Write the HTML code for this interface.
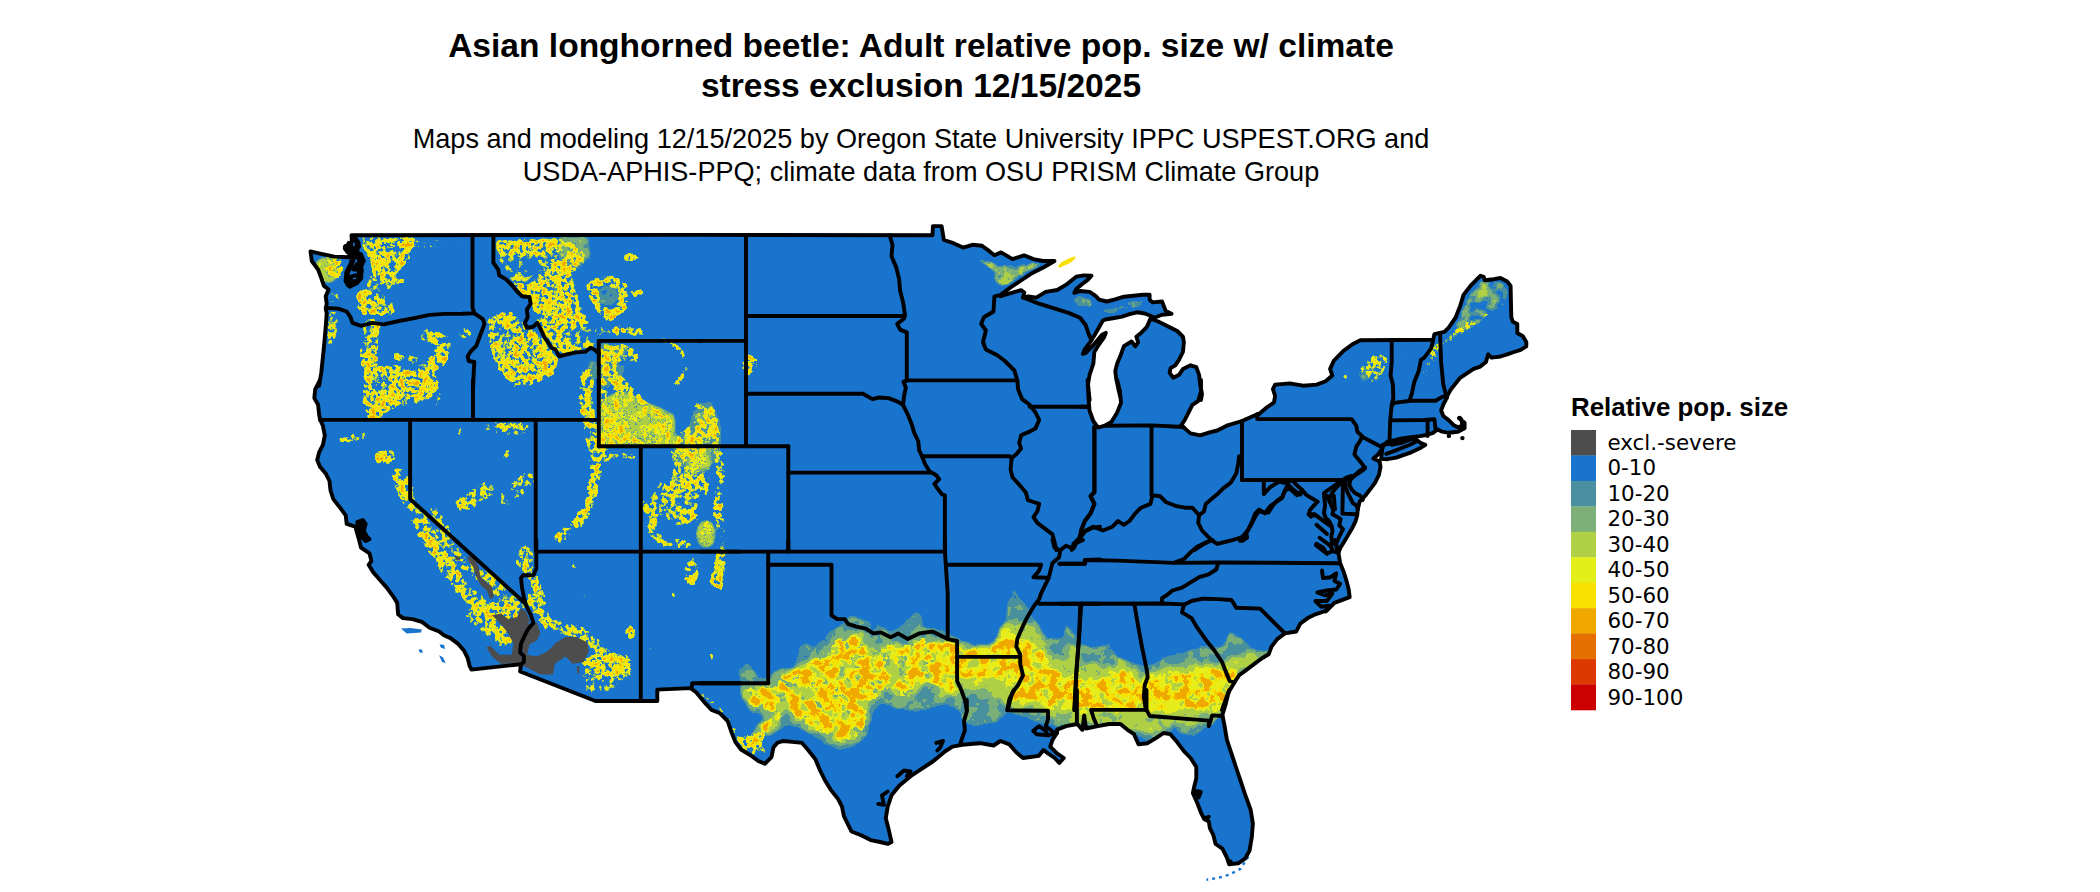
<!DOCTYPE html>
<html><head><meta charset="utf-8"><title>Asian longhorned beetle map</title>
<style>
html,body{margin:0;padding:0;background:#fff;}
body{width:2100px;height:892px;overflow:hidden;position:relative;}
svg{position:absolute;left:0;top:0;display:block}
.t{font-family:"Liberation Sans",sans-serif;font-weight:bold;font-size:33.55px;fill:#000;text-anchor:middle}
.s{font-family:"Liberation Sans",sans-serif;font-size:27.1px;fill:#000;text-anchor:middle}
.lt{font-family:"Liberation Sans",sans-serif;font-weight:bold;font-size:25.9px;fill:#000}
.ll{font-family:"DejaVu Sans",sans-serif;font-size:21.4px;fill:#000}
</style></head><body>
<svg width="2100" height="892" viewBox="0 0 2100 892">
<defs>
<filter id="fw" filterUnits="userSpaceOnUse" x="290" y="215" width="1260" height="677" color-interpolation-filters="sRGB">
<feGaussianBlur in="SourceGraphic" stdDeviation="1.5" result="bl"/>
<feColorMatrix in="bl" type="matrix" values="0 0 0 0 0  0 0 0 0 0  0 0 0 0 0  1 0 0 0 0" result="M"/>
<feTurbulence type="fractalNoise" baseFrequency="0.04" numOctaves="2" seed="23" result="T2"/>
<feColorMatrix in="T2" type="matrix" values="0 0 0 0 0  0 0 0 0 0  0 0 0 0 0  0 1 0 0 0" result="N2"/>
<feComposite in="M" in2="N2" operator="arithmetic" k1="2.6" k2="-0.3" k3="0" k4="0" result="M2"/>
<feTurbulence type="fractalNoise" baseFrequency="0.21" numOctaves="3" seed="3" result="T"/>
<feColorMatrix in="T" type="matrix" values="0 0 0 0 0  0 0 0 0 0  0 0 0 0 0  1 0 0 0 0" result="N"/>
<feComposite in="M2" in2="N" operator="arithmetic" k1="1.9" k2="-0.37" k3="0.3" k4="-0.15" result="V"/>
<feColorMatrix in="V" type="matrix" values="0 0 0 1 0  0 0 0 1 0  0 0 0 1 0  0 0 0 1 0" result="VV"/>
<feComponentTransfer in="VV"><feFuncR type="discrete" tableValues="0 0 0 0 0 0 0 0 0 0 0 0 0 0 0 0.29 0.486 0.486 0.69 0.69 0.69 0.902 0.902 0.902 0.902 0.902 0.902 0.902 0.902 0.976 0.976 0.976 0.976 0.976 0.976 0.976 0.976 0.976 0.976 0.976 0.976 0.976 0.976 0.976 0.976 0.976 0.976 0.941 0.941 0.941"/><feFuncG type="discrete" tableValues="0 0 0 0 0 0 0 0 0 0 0 0 0 0 0 0.565 0.69 0.69 0.816 0.816 0.816 0.933 0.933 0.933 0.933 0.933 0.933 0.933 0.933 0.886 0.886 0.886 0.886 0.886 0.886 0.886 0.886 0.886 0.886 0.886 0.886 0.886 0.886 0.886 0.886 0.886 0.886 0.659 0.659 0.659"/><feFuncB type="discrete" tableValues="0 0 0 0 0 0 0 0 0 0 0 0 0 0 0 0.627 0.471 0.471 0.271 0.271 0.271 0.102 0.102 0.102 0.102 0.102 0.102 0.102 0.102 0.0 0.0 0.0 0.0 0.0 0.0 0.0 0.0 0.0 0.0 0.0 0.0 0.0 0.0 0.0 0.0 0.0 0.0 0.0 0.0 0.0"/><feFuncA type="discrete" tableValues="0 0 0 0 0 0 0 0 0 0 0 0 0 0 0 1 1 1 1 1 1 1 1 1 1 1 1 1 1 1 1 1 1 1 1 1 1 1 1 1 1 1 1 1 1 1 1 1 1 1"/></feComponentTransfer>
</filter><filter id="fs" filterUnits="userSpaceOnUse" x="290" y="215" width="1260" height="677" color-interpolation-filters="sRGB">
<feGaussianBlur in="SourceGraphic" stdDeviation="3.0" result="bl"/>
<feColorMatrix in="bl" type="matrix" values="0 0 0 0 0  0 0 0 0 0  0 0 0 0 0  1 0 0 0 0" result="M"/>

<feTurbulence type="fractalNoise" baseFrequency="0.1" numOctaves="5" seed="7" result="T"/>
<feColorMatrix in="T" type="matrix" values="0 0 0 0 0  0 0 0 0 0  0 0 0 0 0  1 0 0 0 0" result="N"/>
<feComposite in="M" in2="N" operator="arithmetic" k1="1.2" k2="0.06" k3="0.0" k4="-0.0" result="V"/>
<feColorMatrix in="V" type="matrix" values="0 0 0 1 0  0 0 0 1 0  0 0 0 1 0  0 0 0 1 0" result="VV"/>
<feComponentTransfer in="VV"><feFuncR type="discrete" tableValues="0 0 0 0 0 0 0 0 0 0 0 0 0 0 0 0 0 0 0 0 0 0 0 0 0 0 0.902 0.902 0.902 0.902 0.902 0.976 0.976 0.976 0.976 0.976 0.941 0.941 0.941 0.941 0.941 0.941 0.941 0.941 0.941 0.941 0.941 0.941 0.941 0.941"/><feFuncG type="discrete" tableValues="0 0 0 0 0 0 0 0 0 0 0 0 0 0 0 0 0 0 0 0 0 0 0 0 0 0 0.933 0.933 0.933 0.933 0.933 0.886 0.886 0.886 0.886 0.886 0.659 0.659 0.659 0.659 0.659 0.659 0.659 0.659 0.659 0.659 0.659 0.659 0.659 0.659"/><feFuncB type="discrete" tableValues="0 0 0 0 0 0 0 0 0 0 0 0 0 0 0 0 0 0 0 0 0 0 0 0 0 0 0.102 0.102 0.102 0.102 0.102 0.0 0.0 0.0 0.0 0.0 0.0 0.0 0.0 0.0 0.0 0.0 0.0 0.0 0.0 0.0 0.0 0.0 0.0 0.0"/><feFuncA type="discrete" tableValues="0 0 0 0 0 0 0 0 0 0 0 0 0 0 0 0 0 0 0 0 0 0 0 0 0 0 1 1 1 1 1 1 1 1 1 1 1 1 1 1 1 1 1 1 1 1 1 1 1 1"/></feComponentTransfer>
</filter><filter id="fn" filterUnits="userSpaceOnUse" x="290" y="215" width="1260" height="677" color-interpolation-filters="sRGB">
<feGaussianBlur in="SourceGraphic" stdDeviation="2.2" result="bl"/>
<feColorMatrix in="bl" type="matrix" values="0 0 0 0 0  0 0 0 0 0  0 0 0 0 0  1 0 0 0 0" result="M"/>

<feTurbulence type="fractalNoise" baseFrequency="0.1" numOctaves="3" seed="11" result="T"/>
<feColorMatrix in="T" type="matrix" values="0 0 0 0 0  0 0 0 0 0  0 0 0 0 0  1 0 0 0 0" result="N"/>
<feComposite in="M" in2="N" operator="arithmetic" k1="0.6" k2="0.32" k3="0.0" k4="-0.0" result="V"/>
<feColorMatrix in="V" type="matrix" values="0 0 0 1 0  0 0 0 1 0  0 0 0 1 0  0 0 0 1 0" result="VV"/>
<feComponentTransfer in="VV"><feFuncR type="discrete" tableValues="0 0 0 0 0 0 0 0 0 0 0 0 0 0 0 0.29 0.29 0.29 0.486 0.486 0.486 0.69 0.69 0.69 0.69 0.902 0.902 0.902 0.902 0.902 0.976 0.976 0.976 0.976 0.976 0.976 0.941 0.941 0.941 0.941 0.941 0.941 0.941 0.941 0.941 0.941 0.941 0.941 0.941 0.941"/><feFuncG type="discrete" tableValues="0 0 0 0 0 0 0 0 0 0 0 0 0 0 0 0.565 0.565 0.565 0.69 0.69 0.69 0.816 0.816 0.816 0.816 0.933 0.933 0.933 0.933 0.933 0.886 0.886 0.886 0.886 0.886 0.886 0.659 0.659 0.659 0.659 0.659 0.659 0.659 0.659 0.659 0.659 0.659 0.659 0.659 0.659"/><feFuncB type="discrete" tableValues="0 0 0 0 0 0 0 0 0 0 0 0 0 0 0 0.627 0.627 0.627 0.471 0.471 0.471 0.271 0.271 0.271 0.271 0.102 0.102 0.102 0.102 0.102 0.0 0.0 0.0 0.0 0.0 0.0 0.0 0.0 0.0 0.0 0.0 0.0 0.0 0.0 0.0 0.0 0.0 0.0 0.0 0.0"/><feFuncA type="discrete" tableValues="0 0 0 0 0 0 0 0 0 0 0 0 0 0 0 1 1 1 1 1 1 1 1 1 1 1 1 1 1 1 1 1 1 1 1 1 1 1 1 1 1 1 1 1 1 1 1 1 1 1"/></feComponentTransfer>
</filter><filter id="fh" filterUnits="userSpaceOnUse" x="290" y="215" width="1260" height="677" color-interpolation-filters="sRGB">
<feGaussianBlur in="SourceGraphic" stdDeviation="2.2" result="bl"/>
<feColorMatrix in="bl" type="matrix" values="0 0 0 0 0  0 0 0 0 0  0 0 0 0 0  1 0 0 0 0" result="M"/>

<feTurbulence type="fractalNoise" baseFrequency="0.09" numOctaves="3" seed="5" result="T"/>
<feColorMatrix in="T" type="matrix" values="0 0 0 0 0  0 0 0 0 0  0 0 0 0 0  1 0 0 0 0" result="N"/>
<feComposite in="M" in2="N" operator="arithmetic" k1="0.3" k2="0.47" k3="0.0" k4="-0.0" result="V"/>
<feColorMatrix in="V" type="matrix" values="0 0 0 1 0  0 0 0 1 0  0 0 0 1 0  0 0 0 1 0" result="VV"/>
<feComponentTransfer in="VV"><feFuncR type="discrete" tableValues="0 0 0 0 0 0 0 0 0 0 0 0 0 0 0 0.29 0.29 0.29 0.486 0.486 0.486 0.69 0.69 0.69 0.69 0.902 0.902 0.902 0.902 0.902 0.976 0.976 0.976 0.976 0.976 0.976 0.941 0.941 0.941 0.941 0.941 0.941 0.941 0.941 0.941 0.941 0.941 0.941 0.941 0.941"/><feFuncG type="discrete" tableValues="0 0 0 0 0 0 0 0 0 0 0 0 0 0 0 0.565 0.565 0.565 0.69 0.69 0.69 0.816 0.816 0.816 0.816 0.933 0.933 0.933 0.933 0.933 0.886 0.886 0.886 0.886 0.886 0.886 0.659 0.659 0.659 0.659 0.659 0.659 0.659 0.659 0.659 0.659 0.659 0.659 0.659 0.659"/><feFuncB type="discrete" tableValues="0 0 0 0 0 0 0 0 0 0 0 0 0 0 0 0.627 0.627 0.627 0.471 0.471 0.471 0.271 0.271 0.271 0.271 0.102 0.102 0.102 0.102 0.102 0.0 0.0 0.0 0.0 0.0 0.0 0.0 0.0 0.0 0.0 0.0 0.0 0.0 0.0 0.0 0.0 0.0 0.0 0.0 0.0"/><feFuncA type="discrete" tableValues="0 0 0 0 0 0 0 0 0 0 0 0 0 0 0 1 1 1 1 1 1 1 1 1 1 1 1 1 1 1 1 1 1 1 1 1 1 1 1 1 1 1 1 1 1 1 1 1 1 1"/></feComponentTransfer>
</filter>
<clipPath id="us"><path d="M351.5 235.2 L700.0 234.9 L932.5 235.2 L932.9 226.1 L941.6 226.1 L943.9 240.0 L953.5 243.2 L963.0 247.6 L972.5 244.8 L982.0 245.7 L989.7 251.4 L994.4 255.3 L1001.1 252.4 L1012.5 259.1 L1024.0 255.3 L1033.5 259.1 L1043.0 261.0 L1054.5 261.0 L1043.8 267.2 L1032.4 272.9 L1021.0 280.5 L1009.5 288.1 L1000.0 295.4 L1000.0 296.3 L1011.4 292.9 L1021.0 290.2 L1024.4 292.5 L1022.9 297.7 L1028.6 296.3 L1036.2 297.7 L1045.7 291.9 L1057.2 290.0 L1066.7 284.3 L1076.2 276.7 L1083.8 275.4 L1091.5 275.7 L1087.7 279.9 L1081.9 284.3 L1076.2 289.1 L1074.3 292.9 L1080.0 291.0 L1089.6 291.9 L1095.3 295.7 L1099.1 299.6 L1106.7 301.5 L1114.3 299.6 L1123.9 296.7 L1133.4 295.7 L1142.9 294.8 L1149.6 294.8 L1149.6 299.6 L1152.5 302.4 L1162.0 301.5 L1163.9 306.2 L1165.8 311.0 L1171.5 313.8 L1162.0 314.8 L1154.4 317.7 L1150.5 315.8 L1144.8 313.5 L1137.2 312.3 L1129.6 314.2 L1122.0 316.7 L1114.3 318.0 L1106.7 319.2 L1102.9 320.5 L1099.1 327.2 L1095.3 333.9 L1091.5 340.1 L1088.6 344.3 L1084.8 349.1 L1082.9 353.9 L1085.8 352.9 L1091.5 347.2 L1097.2 340.5 L1102.0 334.8 L1105.8 332.9 L1103.9 337.7 L1099.1 344.3 L1094.3 352.0 L1093.4 363.4 L1089.6 374.8 L1087.7 386.3 L1089.6 400.0 L1087.6 380.0 L1088.6 399.1 L1089.5 410.5 L1093.3 421.0 L1098.1 427.6 L1104.8 425.7 L1111.4 421.9 L1117.2 412.4 L1121.0 402.9 L1120.0 391.4 L1117.2 380.0 L1121.0 400.0 L1118.2 388.2 L1116.2 378.6 L1115.3 371.0 L1117.2 363.4 L1120.4 355.8 L1123.9 346.2 L1131.5 341.5 L1135.3 346.2 L1138.2 342.4 L1136.3 336.7 L1141.0 332.9 L1146.7 327.2 L1150.5 318.6 L1158.2 321.5 L1167.7 326.2 L1177.2 331.0 L1182.9 336.7 L1183.9 342.4 L1182.9 352.0 L1179.1 359.6 L1175.3 365.3 L1170.6 368.2 L1169.6 372.9 L1173.4 377.7 L1179.1 374.8 L1182.9 369.1 L1190.6 365.3 L1196.3 367.2 L1199.1 374.8 L1200.1 384.4 L1202.0 393.9 L1201.0 400.0 L1201.0 380.0 L1201.0 391.4 L1198.2 401.0 L1192.4 404.8 L1188.6 412.4 L1184.8 420.0 L1181.0 425.7 L1183.9 427.6 L1190.5 433.4 L1200.1 435.3 L1209.6 432.4 L1217.2 430.5 L1226.7 425.7 L1242.0 421.0 L1257.2 414.3 L1257.2 415.5 L1267.3 407.0 L1274.0 402.5 L1275.1 395.8 L1272.9 389.0 L1275.1 384.6 L1289.7 383.4 L1303.2 385.7 L1316.6 384.6 L1325.6 381.2 L1332.3 375.6 L1330.1 368.9 L1333.9 360.6 L1343.5 350.9 L1352.5 344.2 L1360.3 340.2 L1433.2 339.7 L1434.4 334.1 L1444.4 331.9 L1448.9 327.4 L1455.7 317.3 L1460.1 306.1 L1463.5 294.9 L1471.4 284.8 L1480.3 275.8 L1483.7 276.9 L1484.8 280.3 L1493.8 279.2 L1500.5 278.0 L1507.2 281.4 L1510.6 285.9 L1511.3 317.3 L1512.9 321.8 L1517.3 324.0 L1517.3 333.0 L1522.9 336.3 L1526.3 341.9 L1526.3 346.4 L1520.7 349.8 L1514.0 352.0 L1507.2 354.3 L1500.5 356.5 L1491.5 357.6 L1488.2 354.3 L1485.9 362.1 L1480.3 366.6 L1473.6 368.9 L1466.9 373.3 L1460.1 377.8 L1455.7 383.4 L1451.2 389.0 L1447.8 394.7 L1446.7 398.0 L1443.3 404.7 L1441.1 410.3 L1443.3 416.0 L1448.9 420.4 L1453.4 424.9 L1457.9 427.2 L1462.4 426.0 L1461.3 419.3 L1459.0 418.2 L1464.6 422.7 L1464.6 428.3 L1457.9 431.7 L1448.9 432.8 L1442.2 431.7 L1437.7 429.4 L1433.2 432.8 L1426.5 435.0 L1419.8 436.1 L1410.8 437.3 L1401.8 438.4 L1392.9 440.6 L1386.1 442.9 L1383.9 445.1 L1382.0 449.0 L1378.1 454.5 L1373.4 458.5 L1379.7 461.6 L1380.5 467.1 L1378.9 474.9 L1375.0 482.8 L1370.3 489.1 L1365.6 495.3 L1361.6 499.3 L1362.7 499.7 L1359.7 501.3 L1357.8 509.3 L1357.2 515.5 L1355.4 521.7 L1351.7 529.1 L1348.0 535.2 L1344.3 541.4 L1340.6 547.5 L1338.7 551.9 L1334.4 540.0 L1338.2 551.4 L1340.1 562.9 L1343.9 572.4 L1346.8 581.9 L1348.7 589.5 L1349.7 597.2 L1334.4 602.9 L1326.8 610.5 L1315.4 614.3 L1307.7 618.1 L1300.1 623.8 L1296.3 631.5 L1284.9 633.4 L1277.2 639.1 L1271.5 646.7 L1268.7 654.3 L1262.0 658.2 L1254.4 663.9 L1246.8 669.6 L1239.1 675.3 L1235.3 681.0 L1229.6 690.5 L1225.8 700.1 L1222.0 710.0 L1229.2 690.0 L1225.8 703.6 L1222.4 714.9 L1224.6 726.2 L1226.9 739.8 L1231.4 753.4 L1235.9 767.0 L1240.5 780.6 L1245.0 794.2 L1250.7 810.0 L1252.9 823.6 L1251.8 837.2 L1249.5 850.8 L1245.0 858.7 L1238.2 863.3 L1229.2 864.4 L1226.9 857.6 L1222.4 848.6 L1215.6 844.0 L1213.3 835.0 L1209.9 828.2 L1208.8 821.4 L1204.2 819.1 L1200.8 812.3 L1197.4 803.3 L1192.9 793.1 L1194.0 787.4 L1196.3 778.3 L1196.3 767.0 L1190.6 758.0 L1183.9 751.2 L1177.1 742.1 L1170.3 734.2 L1163.5 733.0 L1156.7 737.6 L1147.6 743.2 L1138.6 744.4 L1134.0 734.2 L1127.2 729.6 L1120.4 724.0 L1109.1 724.0 L1097.8 726.2 L1086.0 728.5 L1084.2 715.4 L1082.4 729.9 L1077.4 724.0 L1066.1 726.2 L1057.0 729.6 L1057.0 733.0 L1052.5 739.8 L1050.2 746.6 L1057.0 753.4 L1063.8 758.0 L1059.3 762.9 L1054.7 758.0 L1048.0 753.4 L1043.4 750.0 L1038.9 755.7 L1032.1 756.8 L1023.0 758.0 L1016.2 752.3 L1009.4 744.4 L1000.4 741.0 L993.6 745.5 L980.0 743.2 L973.5 743.8 L962.1 744.8 L952.5 746.7 L944.9 751.5 L933.5 761.0 L922.0 768.6 L910.6 776.2 L899.2 785.8 L891.5 795.3 L887.7 806.7 L885.8 818.2 L888.7 829.6 L891.5 842.0 L887.7 843.9 L880.1 842.0 L870.6 840.1 L861.1 835.3 L851.5 831.5 L848.7 825.8 L843.9 816.2 L842.0 806.7 L838.2 799.1 L830.6 789.6 L824.8 780.0 L820.1 770.5 L815.3 759.1 L807.7 749.5 L802.0 742.9 L792.5 741.9 L782.9 741.0 L777.2 742.9 L773.4 747.6 L771.5 757.2 L764.8 763.8 L758.2 761.0 L750.5 755.3 L741.0 749.5 L735.3 741.9 L731.5 732.4 L727.7 721.0 L720.0 713.3 L711.6 710.0 L705.9 703.9 L701.1 698.2 L696.4 692.5 L690.6 688.1 L657.3 689.6 L657.3 701.0 L595.4 701.0 L520.1 671.5 L521.0 664.2 L471.5 669.6 L469.6 665.8 L467.7 658.2 L463.9 650.5 L458.2 643.9 L450.5 638.1 L443.9 635.3 L439.1 631.5 L429.6 627.7 L421.9 621.9 L412.4 619.1 L402.9 618.1 L398.1 614.3 L397.2 602.9 L392.4 595.3 L386.7 587.6 L380.0 580.0 L373.3 572.4 L368.6 564.8 L371.4 561.0 L369.5 553.3 L361.0 547.6 L359.1 540.0 L355.3 526.7 L346.7 523.9 L345.7 515.3 L340.0 507.7 L333.3 499.1 L330.5 490.5 L329.5 481.0 L325.7 473.4 L320.0 466.7 L317.2 460.0 L319.1 452.4 L322.9 444.8 L324.8 435.3 L322.9 425.7 L320.0 419.1 L319.1 414.3 L318.1 404.8 L314.3 398.1 L315.2 389.5 L320.0 380.0 L319.1 385.8 L321.3 372.5 L322.9 357.2 L324.4 342.0 L325.7 326.7 L326.7 313.4 L325.7 308.6 L326.7 303.8 L325.7 296.2 L328.6 289.6 L323.8 285.7 L321.0 277.2 L318.1 269.5 L311.8 261.0 L310.5 251.4 L319.1 253.3 L334.3 256.6 L349.2 257.2 L349.9 250.5 L351.8 241.0 L351.5 235.2 Z"/><path d="M401.0 628.6 L410.5 628.0 L421.9 629.6 L421.0 632.4 L406.7 633.4 Z"/><path d="M418.5 649.6 L421.9 649.6 L422.9 652.8 L419.7 652.4 Z"/><path d="M439.5 644.4 L443.9 644.8 L445.2 649.0 L441.0 647.7 Z"/><path d="M439.1 655.3 L442.9 657.2 L445.8 662.9 L442.0 662.0 Z"/><path d="M1058.1 266.2 L1061.0 262.4 L1068.6 258.6 L1075.3 256.3 L1075.3 258.6 L1070.5 262.8 L1062.9 266.2 L1059.5 267.7 Z"/><path d="M1382.8 444.8 L1392.9 443.2 L1403.0 440.4 L1415.3 438.7 L1420.9 443.2 L1425.4 444.8 L1420.9 447.7 L1409.7 452.9 L1396.2 457.7 L1387.3 459.2 L1381.1 458.9 Z"/></clipPath>
</defs>
<rect width="2100" height="892" fill="#fff"/>
<path d="M351.5 235.2 L700.0 234.9 L932.5 235.2 L932.9 226.1 L941.6 226.1 L943.9 240.0 L953.5 243.2 L963.0 247.6 L972.5 244.8 L982.0 245.7 L989.7 251.4 L994.4 255.3 L1001.1 252.4 L1012.5 259.1 L1024.0 255.3 L1033.5 259.1 L1043.0 261.0 L1054.5 261.0 L1043.8 267.2 L1032.4 272.9 L1021.0 280.5 L1009.5 288.1 L1000.0 295.4 L1000.0 296.3 L1011.4 292.9 L1021.0 290.2 L1024.4 292.5 L1022.9 297.7 L1028.6 296.3 L1036.2 297.7 L1045.7 291.9 L1057.2 290.0 L1066.7 284.3 L1076.2 276.7 L1083.8 275.4 L1091.5 275.7 L1087.7 279.9 L1081.9 284.3 L1076.2 289.1 L1074.3 292.9 L1080.0 291.0 L1089.6 291.9 L1095.3 295.7 L1099.1 299.6 L1106.7 301.5 L1114.3 299.6 L1123.9 296.7 L1133.4 295.7 L1142.9 294.8 L1149.6 294.8 L1149.6 299.6 L1152.5 302.4 L1162.0 301.5 L1163.9 306.2 L1165.8 311.0 L1171.5 313.8 L1162.0 314.8 L1154.4 317.7 L1150.5 315.8 L1144.8 313.5 L1137.2 312.3 L1129.6 314.2 L1122.0 316.7 L1114.3 318.0 L1106.7 319.2 L1102.9 320.5 L1099.1 327.2 L1095.3 333.9 L1091.5 340.1 L1088.6 344.3 L1084.8 349.1 L1082.9 353.9 L1085.8 352.9 L1091.5 347.2 L1097.2 340.5 L1102.0 334.8 L1105.8 332.9 L1103.9 337.7 L1099.1 344.3 L1094.3 352.0 L1093.4 363.4 L1089.6 374.8 L1087.7 386.3 L1089.6 400.0 L1087.6 380.0 L1088.6 399.1 L1089.5 410.5 L1093.3 421.0 L1098.1 427.6 L1104.8 425.7 L1111.4 421.9 L1117.2 412.4 L1121.0 402.9 L1120.0 391.4 L1117.2 380.0 L1121.0 400.0 L1118.2 388.2 L1116.2 378.6 L1115.3 371.0 L1117.2 363.4 L1120.4 355.8 L1123.9 346.2 L1131.5 341.5 L1135.3 346.2 L1138.2 342.4 L1136.3 336.7 L1141.0 332.9 L1146.7 327.2 L1150.5 318.6 L1158.2 321.5 L1167.7 326.2 L1177.2 331.0 L1182.9 336.7 L1183.9 342.4 L1182.9 352.0 L1179.1 359.6 L1175.3 365.3 L1170.6 368.2 L1169.6 372.9 L1173.4 377.7 L1179.1 374.8 L1182.9 369.1 L1190.6 365.3 L1196.3 367.2 L1199.1 374.8 L1200.1 384.4 L1202.0 393.9 L1201.0 400.0 L1201.0 380.0 L1201.0 391.4 L1198.2 401.0 L1192.4 404.8 L1188.6 412.4 L1184.8 420.0 L1181.0 425.7 L1183.9 427.6 L1190.5 433.4 L1200.1 435.3 L1209.6 432.4 L1217.2 430.5 L1226.7 425.7 L1242.0 421.0 L1257.2 414.3 L1257.2 415.5 L1267.3 407.0 L1274.0 402.5 L1275.1 395.8 L1272.9 389.0 L1275.1 384.6 L1289.7 383.4 L1303.2 385.7 L1316.6 384.6 L1325.6 381.2 L1332.3 375.6 L1330.1 368.9 L1333.9 360.6 L1343.5 350.9 L1352.5 344.2 L1360.3 340.2 L1433.2 339.7 L1434.4 334.1 L1444.4 331.9 L1448.9 327.4 L1455.7 317.3 L1460.1 306.1 L1463.5 294.9 L1471.4 284.8 L1480.3 275.8 L1483.7 276.9 L1484.8 280.3 L1493.8 279.2 L1500.5 278.0 L1507.2 281.4 L1510.6 285.9 L1511.3 317.3 L1512.9 321.8 L1517.3 324.0 L1517.3 333.0 L1522.9 336.3 L1526.3 341.9 L1526.3 346.4 L1520.7 349.8 L1514.0 352.0 L1507.2 354.3 L1500.5 356.5 L1491.5 357.6 L1488.2 354.3 L1485.9 362.1 L1480.3 366.6 L1473.6 368.9 L1466.9 373.3 L1460.1 377.8 L1455.7 383.4 L1451.2 389.0 L1447.8 394.7 L1446.7 398.0 L1443.3 404.7 L1441.1 410.3 L1443.3 416.0 L1448.9 420.4 L1453.4 424.9 L1457.9 427.2 L1462.4 426.0 L1461.3 419.3 L1459.0 418.2 L1464.6 422.7 L1464.6 428.3 L1457.9 431.7 L1448.9 432.8 L1442.2 431.7 L1437.7 429.4 L1433.2 432.8 L1426.5 435.0 L1419.8 436.1 L1410.8 437.3 L1401.8 438.4 L1392.9 440.6 L1386.1 442.9 L1383.9 445.1 L1382.0 449.0 L1378.1 454.5 L1373.4 458.5 L1379.7 461.6 L1380.5 467.1 L1378.9 474.9 L1375.0 482.8 L1370.3 489.1 L1365.6 495.3 L1361.6 499.3 L1362.7 499.7 L1359.7 501.3 L1357.8 509.3 L1357.2 515.5 L1355.4 521.7 L1351.7 529.1 L1348.0 535.2 L1344.3 541.4 L1340.6 547.5 L1338.7 551.9 L1334.4 540.0 L1338.2 551.4 L1340.1 562.9 L1343.9 572.4 L1346.8 581.9 L1348.7 589.5 L1349.7 597.2 L1334.4 602.9 L1326.8 610.5 L1315.4 614.3 L1307.7 618.1 L1300.1 623.8 L1296.3 631.5 L1284.9 633.4 L1277.2 639.1 L1271.5 646.7 L1268.7 654.3 L1262.0 658.2 L1254.4 663.9 L1246.8 669.6 L1239.1 675.3 L1235.3 681.0 L1229.6 690.5 L1225.8 700.1 L1222.0 710.0 L1229.2 690.0 L1225.8 703.6 L1222.4 714.9 L1224.6 726.2 L1226.9 739.8 L1231.4 753.4 L1235.9 767.0 L1240.5 780.6 L1245.0 794.2 L1250.7 810.0 L1252.9 823.6 L1251.8 837.2 L1249.5 850.8 L1245.0 858.7 L1238.2 863.3 L1229.2 864.4 L1226.9 857.6 L1222.4 848.6 L1215.6 844.0 L1213.3 835.0 L1209.9 828.2 L1208.8 821.4 L1204.2 819.1 L1200.8 812.3 L1197.4 803.3 L1192.9 793.1 L1194.0 787.4 L1196.3 778.3 L1196.3 767.0 L1190.6 758.0 L1183.9 751.2 L1177.1 742.1 L1170.3 734.2 L1163.5 733.0 L1156.7 737.6 L1147.6 743.2 L1138.6 744.4 L1134.0 734.2 L1127.2 729.6 L1120.4 724.0 L1109.1 724.0 L1097.8 726.2 L1086.0 728.5 L1084.2 715.4 L1082.4 729.9 L1077.4 724.0 L1066.1 726.2 L1057.0 729.6 L1057.0 733.0 L1052.5 739.8 L1050.2 746.6 L1057.0 753.4 L1063.8 758.0 L1059.3 762.9 L1054.7 758.0 L1048.0 753.4 L1043.4 750.0 L1038.9 755.7 L1032.1 756.8 L1023.0 758.0 L1016.2 752.3 L1009.4 744.4 L1000.4 741.0 L993.6 745.5 L980.0 743.2 L973.5 743.8 L962.1 744.8 L952.5 746.7 L944.9 751.5 L933.5 761.0 L922.0 768.6 L910.6 776.2 L899.2 785.8 L891.5 795.3 L887.7 806.7 L885.8 818.2 L888.7 829.6 L891.5 842.0 L887.7 843.9 L880.1 842.0 L870.6 840.1 L861.1 835.3 L851.5 831.5 L848.7 825.8 L843.9 816.2 L842.0 806.7 L838.2 799.1 L830.6 789.6 L824.8 780.0 L820.1 770.5 L815.3 759.1 L807.7 749.5 L802.0 742.9 L792.5 741.9 L782.9 741.0 L777.2 742.9 L773.4 747.6 L771.5 757.2 L764.8 763.8 L758.2 761.0 L750.5 755.3 L741.0 749.5 L735.3 741.9 L731.5 732.4 L727.7 721.0 L720.0 713.3 L711.6 710.0 L705.9 703.9 L701.1 698.2 L696.4 692.5 L690.6 688.1 L657.3 689.6 L657.3 701.0 L595.4 701.0 L520.1 671.5 L521.0 664.2 L471.5 669.6 L469.6 665.8 L467.7 658.2 L463.9 650.5 L458.2 643.9 L450.5 638.1 L443.9 635.3 L439.1 631.5 L429.6 627.7 L421.9 621.9 L412.4 619.1 L402.9 618.1 L398.1 614.3 L397.2 602.9 L392.4 595.3 L386.7 587.6 L380.0 580.0 L373.3 572.4 L368.6 564.8 L371.4 561.0 L369.5 553.3 L361.0 547.6 L359.1 540.0 L355.3 526.7 L346.7 523.9 L345.7 515.3 L340.0 507.7 L333.3 499.1 L330.5 490.5 L329.5 481.0 L325.7 473.4 L320.0 466.7 L317.2 460.0 L319.1 452.4 L322.9 444.8 L324.8 435.3 L322.9 425.7 L320.0 419.1 L319.1 414.3 L318.1 404.8 L314.3 398.1 L315.2 389.5 L320.0 380.0 L319.1 385.8 L321.3 372.5 L322.9 357.2 L324.4 342.0 L325.7 326.7 L326.7 313.4 L325.7 308.6 L326.7 303.8 L325.7 296.2 L328.6 289.6 L323.8 285.7 L321.0 277.2 L318.1 269.5 L311.8 261.0 L310.5 251.4 L319.1 253.3 L334.3 256.6 L349.2 257.2 L349.9 250.5 L351.8 241.0 L351.5 235.2 Z" fill="#1874CD"/>
<path d="M401.0 628.6 L410.5 628.0 L421.9 629.6 L421.0 632.4 L406.7 633.4 Z" fill="#1874CD"/><path d="M418.5 649.6 L421.9 649.6 L422.9 652.8 L419.7 652.4 Z" fill="#1874CD"/><path d="M439.5 644.4 L443.9 644.8 L445.2 649.0 L441.0 647.7 Z" fill="#1874CD"/><path d="M439.1 655.3 L442.9 657.2 L445.8 662.9 L442.0 662.0 Z" fill="#1874CD"/><path d="M1382.8 444.8 L1392.9 443.2 L1403.0 440.4 L1415.3 438.7 L1420.9 443.2 L1425.4 444.8 L1420.9 447.7 L1409.7 452.9 L1396.2 457.7 L1387.3 459.2 L1381.1 458.9 Z" fill="#1874CD"/>
<path d="M1058.1 266.2 L1061.0 262.4 L1068.6 258.6 L1075.3 256.3 L1075.3 258.6 L1070.5 262.8 L1062.9 266.2 L1059.5 267.7 Z" fill="#F8E000"/>
<path d="M1248.4 856.5 L1240.5 868.9 L1229.2 874.6 L1217.8 878.0 L1206.5 879.8" fill="none" stroke="#1874CD" stroke-width="2.4" stroke-dasharray="3 4" stroke-linecap="butt"/>
<g clip-path="url(#us)">
<g filter="url(#fn)"><rect x="290" y="215" width="1260" height="677" fill="#000"/><path d="M974.4 256.2 L985.9 258.1 L997.3 263.8 L1012.5 263.8 L1027.8 261.0 L1043.0 262.9 L1050.6 262.9 L1035.4 269.5 L1022.1 277.2 L1008.7 285.7 L997.3 286.7 L993.5 281.0 L989.7 269.5 L980.1 263.8 Z" fill="#fff" fill-opacity="0.64"/>
<path d="M1004.9 281.0 L1024.0 267.6 L1041.1 262.9" fill="none" stroke="#fff" stroke-opacity="0.22" stroke-width="4.2" stroke-linecap="round" stroke-linejoin="round"/>
<ellipse cx="1003.0" cy="281.0" rx="2.7" ry="2.3" transform="rotate(0 1003.0 281.0)" fill="#fff" fill-opacity="0.4"/>
<path d="M1070.5 294.8 L1080.0 292.9 L1091.5 296.7 L1095.3 306.2 L1083.9 310.0 L1072.4 306.2 Z" fill="#fff" fill-opacity="0.55"/>
<ellipse cx="1085.8" cy="299.6" rx="5.3" ry="1.9" transform="rotate(30 1085.8 299.6)" fill="#fff" fill-opacity="0.25"/>
<path d="M1101.0 302.4 L1114.4 301.5 L1133.4 297.7 L1146.8 298.6 L1148.7 306.2 L1137.2 310.0 L1122.0 312.0 L1110.5 315.8 L1101.0 313.9 Z" fill="#fff" fill-opacity="0.5"/>
<path d="M1453.4 324.0 L1464.6 299.3 L1480.3 279.2 L1500.5 279.2 L1509.5 288.1 L1507.2 308.3 L1491.5 312.8 L1480.3 324.0 L1464.6 335.2 L1451.2 339.7 Z" fill="#fff" fill-opacity="0.52"/>
<path d="M1466.9 294.9 L1480.3 279.2 L1491.5 288.1 L1489.3 299.3 L1478.1 303.8 L1469.1 303.8 Z" fill="#fff" fill-opacity="0.24"/>
<ellipse cx="1485.9" cy="315.0" rx="2.7" ry="2.7" transform="rotate(0 1485.9 315.0)" fill="#fff" fill-opacity="0.5"/>
<ellipse cx="1475.8" cy="322.9" rx="2.7" ry="2.7" transform="rotate(0 1475.8 322.9)" fill="#fff" fill-opacity="0.5"/>
<ellipse cx="1366.0" cy="375.6" rx="7.8" ry="13.5" transform="rotate(35 1366.0 375.6)" fill="#fff" fill-opacity="0.5"/></g>
<g filter="url(#fh)"><rect x="290" y="215" width="1260" height="677" fill="#000"/><ellipse cx="326.9" cy="269.8" rx="12.8" ry="14.8" transform="rotate(-20 326.9 269.8)" fill="#fff" fill-opacity="0.74"/>
<path d="M599.1 399.5 L598.8 399.7 L598.5 399.8 L598.3 400.0 L598.1 400.3 L597.9 400.5 L597.8 400.8 L597.6 401.0 L597.5 401.3 L597.5 401.6 L597.4 401.9 L597.4 402.2 L597.4 445.2 L597.4 445.5 L597.5 445.8 L597.5 446.1 L597.6 446.3 L597.8 446.6 L597.9 446.9 L598.1 447.1 L598.3 447.3 L598.5 447.5 L598.7 447.7 L599.0 447.8 L599.3 448.0 L599.5 448.1 L599.8 448.1 L600.1 448.2 L600.4 448.2 L640.7 448.2 L640.9 448.2 L674.5 445.5 L674.8 445.5 L675.1 445.4 L675.4 445.3 L675.6 445.2 L675.9 445.0 L676.1 444.9 L676.4 444.7 L676.6 444.5 L676.7 444.3 L676.9 444.0 L677.0 443.8 L677.1 443.5 L677.2 443.2 L677.3 442.9 L677.3 442.6 L677.3 442.4 L676.0 415.5 L676.0 415.2 L675.9 414.9 L675.8 414.6 L675.7 414.3 L675.6 414.0 L675.4 413.8 L675.2 413.6 L675.0 413.3 L674.7 413.2 L674.5 413.0 L674.2 412.9 L650.1 402.2 L623.2 388.7 L623.0 388.6 L622.7 388.5 L622.4 388.4 L622.1 388.4 L621.7 388.4 L621.4 388.4 L621.1 388.5 L620.8 388.6 L620.6 388.7 Z" fill="#fff" fill-opacity="0.76"/>
<path d="M600.7 340.0 L600.4 340.0 L600.1 340.0 L599.8 340.1 L599.5 340.1 L599.2 340.2 L599.0 340.4 L598.7 340.5 L598.5 340.7 L598.3 340.9 L598.1 341.1 L597.9 341.3 L597.8 341.6 L597.6 341.9 L597.5 342.1 L597.5 342.4 L597.4 342.7 L597.4 343.0 L597.4 391.4 L597.4 391.7 L597.5 392.0 L597.5 392.3 L597.6 392.6 L597.8 392.8 L597.9 393.1 L598.1 393.3 L598.3 393.5 L598.5 393.7 L598.7 393.9 L599.0 394.1 L599.3 394.2 L599.6 394.3 L599.8 394.3 L600.1 394.4 L600.4 394.4 L600.7 394.4 L601.0 394.3 L601.3 394.3 L601.6 394.2 L601.8 394.0 L602.1 393.9 L623.6 379.1 L623.8 378.9 L624.1 378.7 L624.3 378.4 L624.4 378.2 L624.6 377.9 L624.7 377.6 L624.8 377.4 L632.8 346.5 L632.9 346.2 L632.9 345.9 L632.9 345.6 L632.9 345.3 L632.8 345.0 L632.7 344.7 L632.6 344.5 L632.5 344.2 L632.4 344.0 L632.2 343.7 L632.0 343.5 L631.8 343.3 L631.5 343.2 L631.3 343.0 L631.0 342.9 L630.7 342.8 L630.5 342.8 L630.2 342.7 Z" fill="#fff" fill-opacity="0.5"/>
<path d="M560.0 235.1 L559.7 235.1 L559.4 235.2 L559.1 235.2 L558.9 235.3 L558.6 235.5 L558.3 235.6 L558.1 235.8 L557.9 236.0 L557.7 236.2 L557.5 236.4 L557.4 236.7 L557.2 237.0 L557.1 237.2 L557.1 237.5 L557.0 237.8 L557.0 238.1 L557.0 265.0 L557.0 265.3 L557.1 265.6 L557.1 265.9 L557.2 266.2 L557.4 266.4 L557.5 266.7 L557.7 266.9 L557.9 267.2 L558.1 267.4 L558.4 267.5 L558.6 267.7 L558.9 267.8 L559.2 267.9 L559.5 268.0 L575.6 270.7 L575.9 270.7 L576.2 270.7 L576.4 270.7 L576.7 270.6 L577.0 270.6 L577.3 270.5 L577.5 270.3 L577.7 270.2 L578.0 270.0 L591.5 259.2 L591.7 259.1 L591.9 258.8 L592.1 258.6 L592.2 258.4 L592.3 258.1 L592.4 257.9 L592.5 257.6 L592.6 257.3 L592.6 257.0 L592.6 256.8 L592.6 256.5 L589.9 237.7 L589.8 237.4 L589.7 237.1 L589.6 236.9 L589.5 236.6 L589.3 236.4 L589.2 236.1 L589.0 235.9 L588.8 235.7 L588.5 235.6 L588.3 235.4 L588.0 235.3 L587.7 235.2 L587.5 235.2 L587.2 235.1 L586.9 235.1 Z" fill="#fff" fill-opacity="0.62"/>
<ellipse cx="607.1" cy="295.9" rx="13.5" ry="12.1" transform="rotate(0 607.1 295.9)" fill="#fff" fill-opacity="0.55"/>
<ellipse cx="592.3" cy="369.9" rx="6.7" ry="12.1" transform="rotate(0 592.3 369.9)" fill="#fff" fill-opacity="0.6"/>
<ellipse cx="697.2" cy="240.8" rx="3.8" ry="2.7" transform="rotate(0 697.2 240.8)" fill="#fff" fill-opacity="0.55"/>
<path d="M694.0 401.9 L693.7 402.0 L693.4 402.1 L693.2 402.2 L692.9 402.3 L692.7 402.5 L692.5 402.7 L692.3 402.9 L692.1 403.1 L691.9 403.4 L691.8 403.6 L691.7 403.9 L691.6 404.2 L688.9 414.9 L688.9 415.0 L686.4 427.4 L673.8 437.5 L673.6 437.6 L673.4 437.9 L673.2 438.1 L673.1 438.3 L673.0 438.6 L672.8 438.9 L672.8 439.1 L672.7 439.4 L670.0 461.0 L670.0 461.3 L670.0 461.6 L670.0 461.9 L670.1 462.2 L670.2 462.5 L670.3 462.8 L670.5 463.0 L670.7 463.3 L670.9 463.5 L671.1 463.7 L671.3 463.9 L671.6 464.0 L687.7 472.6 L688.0 472.8 L688.2 472.9 L688.5 472.9 L688.8 473.0 L689.1 473.0 L689.4 473.0 L689.7 472.9 L690.0 472.9 L716.9 464.3 L717.2 464.2 L717.5 464.0 L717.7 463.9 L718.0 463.7 L718.2 463.5 L718.4 463.2 L718.6 463.0 L718.7 462.7 L718.8 462.4 L718.9 462.1 L724.3 440.5 L724.4 440.3 L724.4 440.0 L724.4 439.7 L724.4 439.4 L721.7 417.9 L721.6 417.6 L721.5 417.3 L721.4 417.0 L713.4 400.9 L713.2 400.6 L713.1 400.4 L712.9 400.1 L712.7 399.9 L712.4 399.8 L712.2 399.6 L711.9 399.5 L711.7 399.4 L711.4 399.3 L711.1 399.2 L710.8 399.2 L710.5 399.2 L710.2 399.2 Z" fill="#fff" fill-opacity="0.55"/>
<ellipse cx="706.1" cy="534.2" rx="10.8" ry="15.1" transform="rotate(0 706.1 534.2)" fill="#fff" fill-opacity="0.8"/>
<ellipse cx="699.9" cy="464.2" rx="12.1" ry="12.1" transform="rotate(0 699.9 464.2)" fill="#fff" fill-opacity="0.56"/>
<path d="M737.6 666.7 L737.4 666.8 L737.1 667.0 L736.9 667.2 L736.7 667.4 L736.6 667.7 L736.4 667.9 L736.3 668.2 L736.2 668.5 L736.1 668.8 L736.1 669.1 L736.1 669.4 L736.1 669.7 L738.0 684.7 L739.8 700.7 L739.9 701.0 L739.9 701.3 L740.0 701.6 L740.2 701.8 L740.3 702.1 L740.5 702.3 L749.4 713.1 L749.6 713.3 L749.8 713.5 L750.0 713.7 L750.2 713.8 L750.5 713.9 L750.8 714.0 L761.6 717.6 L761.8 717.7 L762.7 717.9 L755.4 723.2 L755.1 723.3 L755.0 723.5 L754.8 723.7 L754.6 723.9 L754.5 724.1 L745.6 740.2 L745.4 740.5 L745.3 740.8 L745.3 741.1 L745.2 741.4 L745.2 741.7 L745.2 742.0 L745.3 742.3 L745.3 742.5 L745.4 742.8 L745.5 743.1 L745.7 743.3 L745.9 743.6 L746.1 743.8 L746.3 744.0 L746.5 744.2 L746.8 744.3 L747.0 744.5 L747.3 744.6 L747.6 744.6 L756.5 746.4 L756.8 746.5 L757.1 746.5 L757.3 746.5 L757.6 746.5 L757.9 746.4 L758.2 746.3 L758.4 746.2 L758.7 746.1 L758.9 745.9 L766.0 740.6 L778.4 733.5 L778.6 733.4 L788.2 727.0 L795.5 728.4 L804.0 733.4 L814.6 740.6 L815.0 740.8 L825.8 746.2 L836.4 751.6 L836.7 751.7 L837.0 751.8 L837.3 751.9 L837.6 751.9 L837.9 751.9 L838.2 751.9 L850.8 750.1 L851.1 750.0 L851.4 749.9 L851.7 749.8 L851.9 749.7 L860.9 744.3 L861.2 744.1 L861.3 744.0 L861.5 743.8 L870.4 734.8 L870.6 734.6 L870.8 734.3 L871.0 734.1 L871.1 733.8 L871.2 733.5 L871.3 733.2 L873.0 722.7 L876.4 711.0 L881.7 705.7 L894.1 710.4 L894.4 710.5 L894.6 710.5 L912.6 714.1 L912.9 714.2 L913.2 714.2 L913.5 714.2 L913.8 714.1 L931.7 710.5 L931.8 710.5 L945.3 707.1 L957.5 711.7 L961.4 722.2 L961.5 722.5 L961.6 722.8 L961.8 723.0 L962.0 723.2 L962.2 723.4 L962.4 723.6 L962.6 723.7 L962.8 723.9 L970.9 728.0 L971.2 728.1 L971.5 728.2 L971.9 728.3 L972.2 728.3 L972.5 728.3 L972.8 728.3 L997.0 724.2 L997.3 724.1 L997.6 724.0 L997.9 723.9 L998.2 723.7 L998.4 723.5 L1009.2 714.6 L1029.8 722.0 L1030.0 722.1 L1052.2 728.2 L1052.5 728.3 L1052.8 728.3 L1081.0 730.3 L1081.2 730.3 L1081.5 730.3 L1101.4 728.3 L1120.6 730.2 L1140.3 742.0 L1140.6 742.1 L1140.9 742.2 L1141.2 742.3 L1141.5 742.4 L1161.7 744.4 L1162.0 744.4 L1162.3 744.4 L1162.6 744.3 L1162.9 744.3 L1163.1 744.2 L1163.4 744.0 L1163.7 743.9 L1163.9 743.7 L1164.1 743.5 L1164.3 743.3 L1173.0 732.7 L1191.3 738.3 L1191.6 738.3 L1191.9 738.4 L1192.2 738.4 L1192.5 738.4 L1192.8 738.3 L1193.1 738.3 L1193.4 738.2 L1193.7 738.0 L1211.9 727.9 L1212.1 727.8 L1212.3 727.6 L1212.5 727.4 L1212.7 727.2 L1222.8 715.1 L1222.9 715.0 L1228.9 706.9 L1245.0 686.8 L1277.1 650.6 L1277.3 650.4 L1277.5 650.1 L1277.6 649.9 L1277.7 649.6 L1277.8 649.3 L1277.9 649.0 L1277.9 648.7 L1277.9 648.5 L1277.9 648.2 L1277.8 647.9 L1277.7 647.6 L1277.6 647.3 L1277.5 647.1 L1277.3 646.8 L1277.1 646.6 L1276.9 646.4 L1276.7 646.2 L1276.5 646.0 L1276.2 645.9 L1276.0 645.8 L1275.7 645.7 L1275.4 645.6 L1275.1 645.6 L1274.8 645.6 L1274.5 645.6 L1274.2 645.7 L1274.0 645.8 L1262.8 649.4 L1252.3 646.0 L1244.8 638.4 L1244.6 638.2 L1244.4 638.0 L1232.3 630.0 L1232.0 629.8 L1231.7 629.7 L1231.4 629.6 L1231.2 629.6 L1230.9 629.5 L1230.6 629.5 L1230.3 629.5 L1230.0 629.6 L1229.7 629.6 L1229.4 629.7 L1229.1 629.9 L1228.9 630.0 L1228.7 630.2 L1228.4 630.4 L1228.2 630.6 L1228.1 630.9 L1227.9 631.2 L1220.8 645.2 L1213.0 643.7 L1212.7 643.6 L1212.4 643.6 L1202.3 643.6 L1202.0 643.6 L1201.7 643.7 L1201.4 643.8 L1183.3 649.7 L1167.3 653.8 L1167.0 653.9 L1166.8 654.0 L1166.5 654.1 L1152.9 661.8 L1142.0 663.7 L1130.8 659.9 L1117.7 654.4 L1112.2 643.3 L1112.0 643.0 L1111.9 642.8 L1111.7 642.6 L1111.5 642.4 L1111.3 642.2 L1111.0 642.0 L1110.8 641.9 L1110.5 641.8 L1110.2 641.7 L1109.9 641.6 L1109.6 641.6 L1109.4 641.6 L1109.1 641.6 L1108.8 641.7 L1093.4 645.5 L1081.3 642.1 L1075.9 631.2 L1075.7 630.9 L1075.5 630.6 L1075.3 630.4 L1069.2 624.3 L1069.0 624.1 L1068.8 623.9 L1068.5 623.8 L1068.3 623.6 L1068.0 623.5 L1067.7 623.5 L1067.4 623.4 L1067.1 623.4 L1066.8 623.4 L1066.5 623.5 L1066.2 623.5 L1066.0 623.6 L1065.7 623.7 L1065.5 623.9 L1065.2 624.1 L1065.0 624.3 L1064.8 624.5 L1064.6 624.7 L1064.5 625.0 L1064.3 625.2 L1059.2 637.2 L1048.6 635.7 L1043.4 628.7 L1037.4 618.9 L1031.4 608.8 L1031.1 608.4 L1023.1 598.4 L1016.1 588.4 L1015.9 588.1 L1015.7 587.9 L1015.4 587.7 L1015.2 587.6 L1014.9 587.4 L1014.7 587.3 L1014.4 587.2 L1014.1 587.1 L1013.8 587.1 L1013.5 587.1 L1013.2 587.1 L1012.9 587.2 L1012.6 587.3 L1012.3 587.4 L1012.1 587.5 L1011.8 587.7 L1011.6 587.9 L1011.4 588.1 L1011.2 588.3 L1011.0 588.6 L1010.9 588.8 L1010.8 589.1 L1005.8 603.2 L1005.7 603.5 L1005.6 603.8 L1003.7 619.2 L998.1 626.6 L997.9 626.9 L997.8 627.1 L997.7 627.5 L994.0 638.5 L985.8 643.5 L973.0 641.7 L961.4 637.7 L953.4 633.4 L953.3 633.3 L941.3 627.6 L941.0 627.5 L940.7 627.4 L940.3 627.3 L931.7 626.3 L931.4 626.3 L924.8 626.3 L923.1 624.2 L925.6 621.1 L925.8 620.8 L926.0 620.6 L926.1 620.3 L926.2 620.0 L926.3 619.7 L926.3 619.4 L926.3 619.1 L926.3 618.8 L926.2 618.5 L926.1 618.2 L926.0 617.9 L924.0 613.8 L923.9 613.5 L923.7 613.3 L923.5 613.1 L923.3 612.9 L923.1 612.7 L922.9 612.6 L922.6 612.4 L922.4 612.3 L917.3 610.3 L917.0 610.2 L916.7 610.1 L916.5 610.1 L916.2 610.1 L915.9 610.1 L915.6 610.2 L915.3 610.2 L915.0 610.3 L914.8 610.5 L914.5 610.6 L914.3 610.8 L909.3 614.9 L909.1 615.1 L903.1 621.0 L897.4 625.8 L891.1 628.9 L882.5 623.6 L882.2 623.5 L882.0 623.4 L871.9 619.4 L871.6 619.3 L871.4 619.3 L861.9 617.4 L856.4 613.6 L856.1 613.5 L855.9 613.3 L855.6 613.2 L855.3 613.2 L855.0 613.1 L854.7 613.1 L854.4 613.1 L854.1 613.2 L849.0 614.3 L848.7 614.3 L848.4 614.4 L848.2 614.6 L847.9 614.7 L847.7 614.9 L847.5 615.1 L847.3 615.3 L842.6 620.9 L834.9 625.8 L826.8 630.7 L826.6 630.9 L826.3 631.1 L826.1 631.4 L820.1 638.4 L814.6 644.7 L808.5 641.7 L808.3 641.6 L808.0 641.5 L807.7 641.4 L807.4 641.4 L807.1 641.4 L806.8 641.4 L806.6 641.5 L806.3 641.5 L806.0 641.6 L799.0 644.6 L798.8 644.8 L798.5 644.9 L798.3 645.1 L798.1 645.3 L797.9 645.5 L797.7 645.7 L797.6 646.0 L797.4 646.2 L797.3 646.5 L797.3 646.8 L797.2 647.1 L796.7 652.5 L792.3 665.6 L778.0 667.3 L777.7 667.4 L777.4 667.5 L777.1 667.6 L776.9 667.7 L776.6 667.9 L768.8 673.7 L764.4 676.0 L756.3 671.1 L750.7 662.5 L750.5 662.3 L750.3 662.1 L750.1 661.9 L749.9 661.7 L749.6 661.6 L749.3 661.4 L749.1 661.3 L748.8 661.3 L748.5 661.2 L748.2 661.2 L747.9 661.2 L747.6 661.3 L747.3 661.3 L747.0 661.4 L746.7 661.6 Z" fill="#fff" fill-opacity="0.57"/>
<path d="M941.1 637.7 L940.8 637.6 L940.5 637.5 L940.2 637.5 L939.9 637.5 L939.6 637.5 L939.4 637.6 L939.1 637.6 L938.8 637.7 L938.5 637.9 L938.3 638.0 L938.1 638.2 L937.9 638.4 L937.7 638.6 L937.5 638.9 L937.3 639.1 L937.2 639.4 L937.1 639.6 L937.1 639.9 L937.0 640.2 L937.0 640.5 L937.0 697.0 L937.0 697.3 L937.1 697.6 L937.1 697.9 L937.2 698.2 L937.4 698.4 L937.5 698.7 L937.7 698.9 L937.9 699.1 L938.1 699.3 L938.4 699.5 L938.6 699.7 L938.9 699.8 L939.2 699.9 L939.5 700.0 L939.8 700.0 L940.1 700.0 L940.4 700.0 L940.7 699.9 L940.9 699.8 L953.0 695.8 L953.3 695.7 L953.6 695.6 L953.8 695.5 L954.0 695.3 L954.2 695.1 L961.0 688.3 L971.3 691.8 L971.6 691.9 L987.7 695.9 L988.0 696.0 L988.4 696.0 L998.7 696.0 L1003.9 706.5 L1004.1 706.7 L1004.2 707.0 L1004.4 707.2 L1004.7 707.4 L1004.9 707.6 L1005.2 707.7 L1005.4 707.9 L1005.7 708.0 L1006.0 708.0 L1006.3 708.1 L1006.6 708.1 L1008.4 708.1 L1036.2 712.0 L1047.8 716.0 L1059.8 721.9 L1060.1 722.0 L1060.4 722.1 L1060.7 722.2 L1076.8 724.2 L1077.1 724.2 L1077.4 724.2 L1077.7 724.2 L1089.3 722.2 L1100.9 724.2 L1121.0 728.2 L1121.0 728.2 L1141.2 732.2 L1141.5 732.3 L1141.8 732.3 L1162.0 732.3 L1162.3 732.3 L1162.6 732.2 L1162.9 732.2 L1163.1 732.1 L1163.4 732.0 L1163.7 731.8 L1163.9 731.6 L1173.1 724.2 L1192.2 724.2 L1192.5 724.2 L1210.7 722.2 L1211.0 722.1 L1211.3 722.1 L1211.6 722.0 L1211.8 721.8 L1212.1 721.7 L1212.3 721.5 L1224.4 711.4 L1224.6 711.2 L1224.8 711.0 L1225.0 710.8 L1241.1 686.6 L1261.3 656.4 L1261.4 656.1 L1261.6 655.9 L1261.7 655.6 L1261.7 655.3 L1261.8 655.0 L1261.8 654.7 L1261.8 654.4 L1261.7 654.1 L1261.7 653.9 L1261.6 653.6 L1261.5 653.3 L1261.3 653.1 L1261.2 652.8 L1261.0 652.6 L1260.8 652.4 L1260.5 652.2 L1260.3 652.1 L1260.0 652.0 L1259.7 651.9 L1259.5 651.8 L1259.2 651.7 L1258.9 651.7 L1258.6 651.7 L1258.3 651.7 L1246.2 653.7 L1246.0 653.8 L1245.8 653.9 L1233.7 657.9 L1222.0 661.7 L1210.4 661.7 L1210.1 661.7 L1209.9 661.7 L1197.9 663.8 L1181.9 665.8 L1168.0 665.8 L1167.7 665.8 L1167.4 665.9 L1167.1 665.9 L1166.8 666.0 L1153.0 671.9 L1144.2 673.7 L1133.3 668.3 L1123.5 660.4 L1123.2 660.2 L1123.0 660.0 L1122.7 659.9 L1122.4 659.8 L1122.2 659.8 L1121.9 659.7 L1121.6 659.7 L1121.3 659.7 L1121.0 659.8 L1120.7 659.8 L1120.4 659.9 L1120.2 660.1 L1119.9 660.2 L1119.7 660.4 L1119.5 660.6 L1119.3 660.8 L1119.1 661.1 L1116.0 665.8 L1101.9 665.8 L1090.3 661.9 L1081.4 658.3 L1075.9 647.3 L1075.7 647.0 L1075.6 646.8 L1075.4 646.5 L1075.2 646.3 L1074.9 646.1 L1074.7 646.0 L1074.4 645.8 L1074.1 645.7 L1073.8 645.7 L1073.5 645.6 L1073.2 645.6 L1072.9 645.6 L1072.6 645.7 L1072.3 645.7 L1072.1 645.8 L1071.8 646.0 L1071.5 646.1 L1071.3 646.3 L1071.1 646.5 L1070.9 646.7 L1070.7 646.9 L1070.5 647.2 L1070.4 647.5 L1070.3 647.8 L1066.9 659.4 L1054.9 657.9 L1047.5 645.1 L1047.5 645.1 L1041.5 635.0 L1041.3 634.8 L1041.2 634.6 L1041.0 634.4 L1032.9 626.3 L1032.7 626.1 L1032.5 625.9 L1032.2 625.8 L1031.9 625.6 L1031.7 625.5 L1031.4 625.5 L1021.3 623.5 L1021.0 623.4 L1020.7 623.4 L1020.4 623.4 L1020.1 623.5 L1019.8 623.5 L1019.6 623.6 L1019.3 623.8 L1019.0 623.9 L1015.1 626.6 L1010.7 622.3 L1010.5 622.1 L1010.2 621.9 L1010.0 621.7 L1009.7 621.6 L1009.5 621.5 L1009.2 621.5 L1008.9 621.4 L1008.6 621.4 L1008.3 621.4 L1008.0 621.5 L1007.7 621.5 L1007.4 621.6 L1007.2 621.8 L1006.9 621.9 L1006.7 622.1 L1006.5 622.3 L1000.5 628.3 L1000.3 628.5 L1000.1 628.8 L999.9 629.1 L999.8 629.3 L994.2 644.1 L980.3 647.5 L956.9 643.7 Z" fill="#fff" fill-opacity="0.35"/>
<path d="M745.3 684.4 L745.0 684.4 L744.7 684.4 L744.4 684.5 L744.1 684.6 L743.9 684.7 L743.6 684.8 L743.3 685.0 L743.1 685.1 L742.9 685.4 L742.7 685.6 L742.5 685.8 L742.4 686.1 L742.3 686.4 L742.2 686.6 L742.1 686.9 L742.1 687.2 L742.1 687.5 L742.1 687.8 L743.4 697.3 L743.5 697.6 L743.6 697.9 L743.7 698.2 L743.8 698.4 L744.0 698.7 L749.3 705.8 L749.5 706.0 L749.7 706.2 L749.9 706.4 L750.2 706.6 L750.5 706.7 L750.8 706.8 L761.0 710.3 L768.6 716.6 L762.4 721.5 L762.2 721.6 L762.0 721.8 L761.9 722.0 L761.7 722.2 L756.3 731.1 L756.2 731.4 L756.1 731.7 L756.0 732.0 L755.9 732.2 L755.9 732.5 L755.9 732.8 L755.9 733.1 L756.0 733.4 L756.1 733.7 L756.2 734.0 L756.3 734.2 L756.5 734.5 L756.7 734.7 L756.9 734.9 L757.1 735.1 L757.4 735.3 L757.6 735.4 L757.9 735.5 L758.2 735.6 L758.5 735.7 L758.7 735.7 L759.0 735.7 L759.3 735.7 L759.6 735.6 L766.8 733.8 L767.1 733.7 L767.5 733.6 L767.7 733.4 L778.5 726.3 L778.8 726.1 L779.0 725.9 L779.2 725.7 L779.4 725.4 L779.6 725.2 L779.7 724.9 L782.9 716.8 L790.5 711.7 L794.2 716.6 L794.3 716.7 L801.5 725.7 L801.7 725.9 L801.9 726.1 L802.1 726.3 L802.4 726.4 L802.6 726.6 L815.0 731.8 L827.4 738.9 L827.7 739.1 L840.2 744.5 L840.5 744.6 L840.8 744.6 L841.0 744.7 L841.3 744.7 L841.6 744.7 L841.9 744.7 L842.2 744.6 L842.5 744.5 L856.9 739.1 L857.1 739.0 L857.4 738.8 L857.7 738.7 L857.9 738.4 L858.1 738.2 L858.3 738.0 L865.5 727.3 L865.6 727.0 L865.7 726.8 L865.8 726.6 L865.9 726.3 L869.4 712.0 L872.6 702.3 L879.1 697.5 L879.3 697.4 L879.5 697.2 L879.6 697.0 L885.5 689.6 L893.6 692.3 L900.3 699.0 L900.5 699.2 L900.7 699.4 L901.0 699.6 L901.3 699.7 L901.6 699.8 L901.9 699.9 L902.2 699.9 L902.5 699.9 L902.8 699.9 L903.1 699.8 L903.3 699.7 L914.1 696.1 L914.4 696.0 L914.7 695.9 L914.9 695.8 L915.1 695.6 L915.3 695.4 L915.5 695.2 L915.7 695.0 L922.3 685.0 L930.3 682.3 L936.2 688.2 L936.4 688.4 L936.6 688.6 L947.4 695.8 L947.7 696.0 L948.0 696.1 L948.3 696.2 L948.6 696.3 L948.9 696.3 L949.2 696.3 L949.5 696.3 L949.8 696.2 L950.1 696.1 L960.8 692.5 L961.0 692.4 L961.3 692.3 L961.5 692.1 L961.8 692.0 L962.0 691.8 L962.2 691.5 L962.3 691.3 L962.5 691.0 L962.6 690.8 L962.7 690.5 L962.8 690.2 L962.8 689.9 L962.8 689.6 L962.8 689.3 L962.7 689.0 L962.6 688.7 L962.5 688.5 L962.4 688.2 L962.2 688.0 L962.1 687.7 L961.9 687.5 L961.6 687.3 L961.4 687.2 L956.6 684.1 L961.2 678.3 L971.3 681.7 L971.7 681.8 L972.0 681.9 L972.3 681.9 L972.6 681.9 L990.4 679.9 L1005.4 681.8 L1011.3 686.1 L1007.7 700.4 L1007.6 700.6 L1007.6 700.9 L1007.6 701.2 L1007.6 701.5 L1007.7 701.8 L1007.8 702.1 L1007.9 702.3 L1008.0 702.6 L1008.1 702.8 L1008.3 703.1 L1008.5 703.3 L1008.7 703.5 L1009.0 703.6 L1009.2 703.8 L1009.5 703.9 L1009.8 704.0 L1010.0 704.0 L1010.3 704.1 L1010.6 704.1 L1028.4 704.1 L1044.2 708.0 L1044.2 708.0 L1060.4 712.0 L1060.7 712.1 L1061.1 712.1 L1145.4 712.1 L1161.3 716.1 L1161.5 716.2 L1161.8 716.2 L1162.1 716.2 L1162.4 716.2 L1162.7 716.1 L1163.0 716.0 L1174.6 712.1 L1190.0 712.1 L1205.9 714.2 L1206.2 714.2 L1206.5 714.2 L1206.8 714.2 L1207.1 714.1 L1207.4 714.0 L1223.6 707.9 L1223.8 707.8 L1224.1 707.6 L1224.4 707.5 L1224.6 707.2 L1224.8 707.0 L1225.0 706.8 L1233.1 694.7 L1233.3 694.4 L1233.4 694.1 L1233.5 693.8 L1239.5 671.6 L1239.6 671.3 L1239.6 671.0 L1239.6 670.7 L1239.6 670.4 L1239.5 670.2 L1239.5 669.9 L1239.4 669.6 L1239.2 669.3 L1239.1 669.1 L1238.9 668.9 L1238.7 668.7 L1238.5 668.5 L1238.2 668.3 L1238.0 668.1 L1237.7 668.0 L1237.5 667.9 L1237.2 667.9 L1227.1 665.9 L1226.8 665.8 L1226.5 665.8 L1210.4 665.8 L1210.0 665.8 L1193.8 667.8 L1193.5 667.9 L1177.4 671.9 L1177.4 671.9 L1162.1 675.8 L1150.8 672.0 L1150.5 671.9 L1150.2 671.8 L1149.9 671.8 L1149.5 671.8 L1149.2 671.9 L1148.9 671.9 L1148.7 672.0 L1148.4 672.2 L1148.1 672.3 L1147.9 672.5 L1147.7 672.7 L1147.4 672.9 L1141.2 680.9 L1131.6 674.6 L1123.7 666.7 L1123.5 666.5 L1123.3 666.3 L1123.0 666.2 L1122.8 666.0 L1122.5 665.9 L1122.2 665.9 L1121.9 665.8 L1121.6 665.8 L1121.3 665.8 L1121.0 665.9 L1120.8 665.9 L1120.5 666.0 L1120.2 666.1 L1120.0 666.3 L1119.7 666.5 L1110.1 674.2 L1097.3 677.8 L1081.9 674.0 L1081.6 673.9 L1081.3 673.9 L1081.0 673.9 L1080.8 673.9 L1080.5 674.0 L1073.3 675.8 L1062.6 672.1 L1051.3 662.7 L1043.5 649.2 L1041.6 645.3 L1041.4 645.0 L1041.3 644.8 L1041.1 644.6 L1040.9 644.4 L1040.7 644.2 L1032.6 638.1 L1032.4 638.0 L1032.1 637.8 L1031.9 637.7 L1031.6 637.6 L1031.4 637.6 L1021.3 635.6 L1021.0 635.5 L1020.7 635.5 L1020.4 635.5 L1020.1 635.6 L1019.8 635.6 L1019.5 635.7 L1019.3 635.9 L1019.0 636.0 L1018.8 636.2 L1018.6 636.4 L1017.1 637.9 L1015.3 635.1 L1011.4 625.3 L1011.3 625.0 L1011.1 624.8 L1010.9 624.5 L1010.7 624.3 L1010.5 624.1 L1010.3 623.9 L1010.0 623.7 L1009.7 623.6 L1009.4 623.5 L1009.1 623.5 L1008.8 623.4 L1008.5 623.4 L1008.2 623.4 L1007.9 623.5 L1007.7 623.6 L1001.7 625.6 L1001.4 625.7 L1001.1 625.8 L1000.9 626.0 L1000.6 626.1 L1000.4 626.3 L1000.2 626.6 L1000.1 626.8 L999.9 627.1 L999.8 627.3 L999.7 627.6 L999.6 627.9 L997.7 639.3 L992.8 645.8 L980.4 647.6 L965.3 645.7 L953.8 638.0 L953.5 637.9 L953.3 637.7 L953.0 637.6 L952.7 637.6 L952.4 637.5 L952.1 637.5 L951.8 637.5 L951.5 637.6 L951.3 637.6 L951.0 637.7 L950.7 637.8 L950.5 638.0 L950.2 638.2 L950.0 638.3 L949.8 638.6 L949.6 638.8 L949.5 639.0 L949.3 639.3 L949.2 639.6 L949.2 639.9 L949.1 640.1 L949.1 640.4 L949.1 641.8 L940.5 641.4 L934.5 639.6 L926.7 635.6 L926.4 635.5 L926.1 635.4 L925.9 635.4 L925.6 635.3 L925.3 635.3 L925.0 635.3 L924.8 635.3 L924.5 635.4 L920.5 636.5 L920.2 636.6 L920.0 636.7 L913.9 639.7 L913.6 639.9 L913.3 640.1 L913.1 640.3 L912.9 640.5 L910.0 644.1 L901.7 642.5 L901.3 642.4 L889.2 641.4 L889.0 641.4 L888.7 641.4 L888.4 641.5 L888.2 641.5 L887.9 641.6 L887.7 641.7 L879.7 645.7 L870.7 649.3 L867.8 648.3 L867.8 642.4 L867.8 642.1 L867.7 641.8 L867.7 641.6 L867.6 641.3 L867.5 641.0 L863.4 632.9 L863.2 632.7 L863.1 632.4 L862.9 632.2 L862.6 632.0 L862.4 631.8 L862.1 631.7 L861.9 631.5 L861.6 631.4 L861.3 631.4 L861.0 631.3 L860.7 631.3 L850.6 631.3 L850.3 631.3 L850.1 631.3 L849.8 631.4 L849.5 631.5 L841.5 634.5 L841.5 634.5 L833.4 637.6 L833.2 637.7 L832.9 637.9 L832.7 638.0 L832.4 638.2 L832.2 638.4 L832.1 638.6 L831.9 638.9 L831.8 639.1 L831.7 639.4 L831.6 639.7 L831.5 640.0 L831.5 640.3 L831.5 640.6 L831.8 646.6 L819.5 655.5 L813.0 657.3 L812.7 657.4 L797.5 663.4 L797.2 663.5 L797.0 663.7 L796.7 663.9 L796.5 664.0 L796.3 664.3 L790.8 670.8 L781.4 674.5 L781.1 674.7 L780.8 674.8 L780.5 675.0 L772.9 681.7 L760.0 685.4 Z" fill="#fff" fill-opacity="0.29"/></g>
<g filter="url(#fw)"><rect x="290" y="215" width="1260" height="677" fill="#000"/><ellipse cx="333.6" cy="267.1" rx="9.4" ry="12.1" transform="rotate(-20 333.6 267.1)" fill="#fff" fill-opacity="0.7"/>
<ellipse cx="334.3" cy="298.0" rx="6.1" ry="8.1" transform="rotate(0 334.3 298.0)" fill="#fff" fill-opacity="0.75"/>
<path d="M333.0 314.1 L331.6 340.0" fill="none" stroke="#fff" stroke-opacity="0.7" stroke-width="9.4" stroke-linecap="round" stroke-linejoin="round"/>
<path d="M360.5 237.5 L415.7 237.5 L407.6 260.3 L396.8 273.8 L394.1 287.2 L391.5 300.7 L394.1 312.8 L369.9 316.8 L357.8 311.5 L356.5 295.3 L367.2 284.6 L372.6 271.1 L369.9 257.7 L361.9 246.9 Z" fill="#fff" fill-opacity="0.8"/>
<path d="M413.0 243.8 L472.2 243.8" fill="none" stroke="#fff" stroke-opacity="0.45" stroke-width="9.4" stroke-linecap="round" stroke-linejoin="round"/>
<ellipse cx="399.5" cy="281.5" rx="4.8" ry="2.7" transform="rotate(0 399.5 281.5)" fill="#fff" fill-opacity="0.9"/>
<path d="M371.3 327.2 L368.6 354.1 L372.6 375.7 L375.3 413.3" fill="none" stroke="#fff" stroke-opacity="1.0" stroke-width="16.1" stroke-linecap="round" stroke-linejoin="round"/>
<path d="M426.4 335.3 L445.3 340.7 L439.9 359.5 L418.4 370.3" fill="none" stroke="#fff" stroke-opacity="0.8" stroke-width="13.5" stroke-linecap="round" stroke-linejoin="round"/>
<path d="M396.9 356.8 L415.7 359.5" fill="none" stroke="#fff" stroke-opacity="0.8" stroke-width="8.1" stroke-linecap="round" stroke-linejoin="round"/>
<ellipse cx="464.1" cy="334.0" rx="7.5" ry="5.9" transform="rotate(0 464.1 334.0)" fill="#fff" fill-opacity="0.8"/>
<path d="M367.3 367.6 L402.2 364.9 L434.5 370.3 L439.9 386.4 L426.4 399.9 L407.6 407.9 L380.7 413.3 L361.9 402.6 Z" fill="#fff" fill-opacity="0.95"/>
<ellipse cx="438.6" cy="399.9" rx="2.7" ry="6.7" transform="rotate(20 438.6 399.9)" fill="#fff" fill-opacity="0.8"/>
<path d="M488.3 316.5 L509.8 311.1 L528.7 327.2 L542.1 338.0 L558.3 359.5 L552.9 375.7 L536.8 383.7 L515.2 386.4 L499.1 370.3 L488.3 343.4 Z" fill="#fff" fill-opacity="0.95"/>
<path d="M496.4 241.1 L569.0 238.5 L585.2 257.3 L571.7 273.4 L579.8 305.7 L593.2 332.6 L595.9 351.4 L558.3 354.1 L542.1 332.6 L531.4 305.7 L515.2 284.2 L499.1 262.7 Z" fill="#fff" fill-opacity="0.9"/>
<ellipse cx="531.4" cy="270.7" rx="10.8" ry="13.5" transform="rotate(0 531.4 270.7)" fill="#000" fill-opacity="0.6"/>
<ellipse cx="571.7" cy="257.3" rx="13.5" ry="16.1" transform="rotate(0 571.7 257.3)" fill="#fff" fill-opacity="0.3"/>
<path d="M590.6 286.9 L598.6 305.7 L609.4 316.5 L622.8 305.7 L622.8 286.9 L606.7 278.8 L590.6 286.9" fill="none" stroke="#fff" stroke-opacity="0.9" stroke-width="9.4" stroke-linecap="round" stroke-linejoin="round"/>
<ellipse cx="630.9" cy="257.3" rx="7.5" ry="3.8" transform="rotate(0 630.9 257.3)" fill="#fff" fill-opacity="0.9"/>
<ellipse cx="636.3" cy="293.6" rx="7.5" ry="4.3" transform="rotate(-20 636.3 293.6)" fill="#fff" fill-opacity="0.8"/>
<path d="M595.9 332.6 L622.8 329.9 L639.0 332.6" fill="none" stroke="#fff" stroke-opacity="0.7" stroke-width="8.1" stroke-linecap="round" stroke-linejoin="round"/>
<path d="M600.4 343.0 L629.9 345.7 L640.7 356.4 L635.3 364.5 L621.9 359.1 L613.8 369.9 L621.9 376.6 L648.8 404.9 L667.6 412.9 L673.0 429.1 L667.6 445.2 L600.4 445.2 Z" fill="#fff" fill-opacity="0.85"/>
<ellipse cx="611.1" cy="394.1" rx="4.3" ry="11.3" transform="rotate(0 611.1 394.1)" fill="#000" fill-opacity="0.75"/>
<ellipse cx="623.2" cy="404.9" rx="7.5" ry="7.5" transform="rotate(0 623.2 404.9)" fill="#fff" fill-opacity="0.6"/>
<ellipse cx="650.1" cy="430.4" rx="24.2" ry="12.9" transform="rotate(10 650.1 430.4)" fill="#000" fill-opacity="0.4"/>
<path d="M663.2 339.3 L682.0 351.4 L687.4 367.6 L676.6 383.7" fill="none" stroke="#fff" stroke-opacity="0.9" stroke-width="3.8" stroke-linecap="round" stroke-linejoin="round"/>
<ellipse cx="749.0" cy="364.6" rx="8.1" ry="9.7" transform="rotate(0 749.0 364.6)" fill="#fff" fill-opacity="1.0"/>
<path d="M695.5 402.6 L714.3 407.9 L719.7 434.8 L714.3 451.0 L687.4 461.8 L671.3 456.4 L676.6 434.8 L692.8 424.1 Z" fill="#fff" fill-opacity="0.85"/>
<path d="M587.9 375.7 L585.2 397.2 L590.6 429.5 L595.9 465.0" fill="none" stroke="#fff" stroke-opacity="0.8" stroke-width="13.5" stroke-linecap="round" stroke-linejoin="round"/>
<path d="M488.3 426.8 L523.3 429.5" fill="none" stroke="#fff" stroke-opacity="0.72" stroke-width="11.8" stroke-linecap="round" stroke-linejoin="round"/>
<path d="M343.0 440.2 L378.0 432.2" fill="none" stroke="#fff" stroke-opacity="0.5" stroke-width="6.7" stroke-linecap="round" stroke-linejoin="round"/>
<ellipse cx="386.1" cy="456.4" rx="9.4" ry="6.7" transform="rotate(0 386.1 456.4)" fill="#fff" fill-opacity="0.8"/>
<path d="M458.7 426.8 L461.4 440.2" fill="none" stroke="#fff" stroke-opacity="0.5" stroke-width="2.7" stroke-linecap="round" stroke-linejoin="round"/>
<ellipse cx="384.5" cy="457.5" rx="10.2" ry="7.3" transform="rotate(0 384.5 457.5)" fill="#fff" fill-opacity="0.9"/>
<path d="M399.1 475.0 L410.8 504.1 L428.2 536.2 L445.7 565.3 L463.2 588.6 L486.5 609.0 L509.9 614.9" fill="none" stroke="#fff" stroke-opacity="0.72" stroke-width="16.0" stroke-linecap="round" stroke-linejoin="round"/>
<path d="M474.9 614.9 L504.0 638.2" fill="none" stroke="#fff" stroke-opacity="0.68" stroke-width="17.5" stroke-linecap="round" stroke-linejoin="round"/>
<path d="M486.5 579.9 L515.7 603.2" fill="none" stroke="#fff" stroke-opacity="0.68" stroke-width="17.5" stroke-linecap="round" stroke-linejoin="round"/>
<path d="M434.1 512.9 L457.4 556.6 L480.7 577.0" fill="none" stroke="#fff" stroke-opacity="0.6" stroke-width="11.7" stroke-linecap="round" stroke-linejoin="round"/>
<path d="M463.2 504.1 L486.5 489.5" fill="none" stroke="#fff" stroke-opacity="0.64" stroke-width="16.0" stroke-linecap="round" stroke-linejoin="round"/>
<path d="M506.9 498.3 L527.3 480.8" fill="none" stroke="#fff" stroke-opacity="0.66" stroke-width="16.0" stroke-linecap="round" stroke-linejoin="round"/>
<path d="M504.0 457.5 L515.7 445.8" fill="none" stroke="#fff" stroke-opacity="0.5" stroke-width="5.8" stroke-linecap="round" stroke-linejoin="round"/>
<ellipse cx="524.4" cy="559.5" rx="9.3" ry="14.0" transform="rotate(0 524.4 559.5)" fill="#fff" fill-opacity="0.85"/>
<path d="M533.2 577.0 L541.9 603.2" fill="none" stroke="#fff" stroke-opacity="0.7" stroke-width="8.7" stroke-linecap="round" stroke-linejoin="round"/>
<path d="M603.1 451.7 L594.4 477.9 L588.5 507.0 L576.9 524.5 L559.4 537.6" fill="none" stroke="#fff" stroke-opacity="0.85" stroke-width="9.9" stroke-linecap="round" stroke-linejoin="round"/>
<path d="M600.2 457.5 L632.3 456.0" fill="none" stroke="#fff" stroke-opacity="0.7" stroke-width="6.4" stroke-linecap="round" stroke-linejoin="round"/>
<path d="M530.3 597.4 L547.7 623.6 L579.8 632.4 L603.1 649.9 L620.6 667.3" fill="none" stroke="#fff" stroke-opacity="0.72" stroke-width="11.7" stroke-linecap="round" stroke-linejoin="round"/>
<path d="M579.8 661.5 L603.1 649.9 L629.4 655.7 L632.3 673.2 L608.9 690.7 L585.6 693.6 Z" fill="#fff" fill-opacity="0.75"/>
<ellipse cx="582.7" cy="595.9" rx="3.5" ry="2.9" transform="rotate(0 582.7 595.9)" fill="#fff" fill-opacity="0.9"/>
<ellipse cx="630.8" cy="632.4" rx="5.2" ry="6.4" transform="rotate(0 630.8 632.4)" fill="#fff" fill-opacity="0.9"/>
<ellipse cx="574.0" cy="568.2" rx="2.9" ry="4.1" transform="rotate(0 574.0 568.2)" fill="#fff" fill-opacity="0.6"/>
<path d="M717.4 448.1 L721.4 480.4 L717.4 507.3 L721.4 547.6 L718.7 585.3" fill="none" stroke="#fff" stroke-opacity="0.75" stroke-width="9.1" stroke-linecap="round" stroke-linejoin="round"/>
<path d="M670.3 448.1 L710.7 448.1 L710.7 493.8 L689.1 499.2 L667.6 488.4 L673.0 466.9 Z" fill="#fff" fill-opacity="0.62"/>
<path d="M656.9 483.0 L694.5 480.4 L699.9 520.7 L678.4 526.1 L662.2 515.3 L648.8 504.6 Z" fill="#fff" fill-opacity="0.58"/>
<path d="M646.1 504.6 L654.2 518.0 L651.5 531.5 L662.2 542.2 L686.4 543.6" fill="none" stroke="#fff" stroke-opacity="0.75" stroke-width="8.1" stroke-linecap="round" stroke-linejoin="round"/>
<ellipse cx="705.3" cy="534.2" rx="7.5" ry="12.9" transform="rotate(0 705.3 534.2)" fill="#fff" fill-opacity="0.95"/>
<ellipse cx="691.8" cy="571.8" rx="7.0" ry="13.5" transform="rotate(0 691.8 571.8)" fill="#fff" fill-opacity="0.65"/>
<ellipse cx="692.0" cy="578.4" rx="6.4" ry="5.2" transform="rotate(0 692.0 578.4)" fill="#fff" fill-opacity="0.85"/>
<path d="M719.7 556.6 L713.9 582.8" fill="none" stroke="#fff" stroke-opacity="0.85" stroke-width="7.0" stroke-linecap="round" stroke-linejoin="round"/>
<ellipse cx="711.5" cy="657.1" rx="1.5" ry="5.2" transform="rotate(0 711.5 657.1)" fill="#fff" fill-opacity="0.8"/>
<ellipse cx="673.1" cy="597.4" rx="1.7" ry="1.7" transform="rotate(0 673.1 597.4)" fill="#fff" fill-opacity="0.6"/>
<ellipse cx="672.5" cy="596.1" rx="2.4" ry="2.4" transform="rotate(0 672.5 596.1)" fill="#fff" fill-opacity="0.8"/>
<ellipse cx="648.9" cy="646.3" rx="1.5" ry="3.0" transform="rotate(0 648.9 646.3)" fill="#fff" fill-opacity="0.8"/>
<path d="M702.0 693.5 L728.6 717.1 L737.4 740.8" fill="none" stroke="#fff" stroke-opacity="0.6" stroke-width="3.0" stroke-linecap="round" stroke-linejoin="round"/>
<path d="M737.4 734.9 L764.0 731.9 L767.0 752.6 L755.1 758.5 L743.3 752.6 Z" fill="#fff" fill-opacity="0.7"/>
<path d="M1426.5 371.1 L1435.5 348.7 L1446.7 339.7 L1455.7 335.2 L1469.1 324.0" fill="none" stroke="#fff" stroke-opacity="0.62" stroke-width="7.6" stroke-linecap="round" stroke-linejoin="round"/>
<ellipse cx="1372.7" cy="368.9" rx="10.1" ry="19.1" transform="rotate(40 1372.7 368.9)" fill="#fff" fill-opacity="0.56"/>
<ellipse cx="1345.8" cy="377.8" rx="2.7" ry="2.7" transform="rotate(0 1345.8 377.8)" fill="#fff" fill-opacity="0.7"/>
<ellipse cx="1399.6" cy="393.5" rx="1.8" ry="3.1" transform="rotate(0 1399.6 393.5)" fill="#fff" fill-opacity="0.7"/>
<ellipse cx="1403.0" cy="355.4" rx="1.3" ry="3.1" transform="rotate(0 1403.0 355.4)" fill="#fff" fill-opacity="0.6"/>
<ellipse cx="1475.8" cy="322.9" rx="2.7" ry="2.7" transform="rotate(0 1475.8 322.9)" fill="#fff" fill-opacity="0.75"/>
<ellipse cx="1485.9" cy="315.0" rx="2.7" ry="2.7" transform="rotate(0 1485.9 315.0)" fill="#fff" fill-opacity="0.75"/></g>
<g filter="url(#fs)"><rect x="290" y="215" width="1260" height="677" fill="#000"/><path d="M745.3 684.9 L745.0 684.9 L744.8 684.9 L744.5 685.0 L744.3 685.0 L744.1 685.1 L743.8 685.2 L743.6 685.4 L743.4 685.5 L743.3 685.7 L743.1 685.9 L743.0 686.1 L742.9 686.3 L742.8 686.5 L742.7 686.8 L742.6 687.0 L742.6 687.2 L742.6 687.5 L742.6 687.7 L743.9 697.2 L744.0 697.5 L744.0 697.7 L744.1 698.0 L744.3 698.2 L744.4 698.4 L749.7 705.5 L749.9 705.7 L750.0 705.9 L750.2 706.0 L750.4 706.2 L750.7 706.3 L750.9 706.4 L761.3 709.8 L769.3 716.6 L762.7 721.8 L762.6 722.0 L762.4 722.2 L762.3 722.3 L762.2 722.5 L756.8 731.4 L756.6 731.6 L756.6 731.8 L756.5 732.1 L756.4 732.3 L756.4 732.6 L756.4 732.8 L756.4 733.1 L756.5 733.3 L756.5 733.5 L756.6 733.8 L756.8 734.0 L756.9 734.2 L757.0 734.4 L757.2 734.5 L757.4 734.7 L757.6 734.8 L757.8 735.0 L758.1 735.1 L758.3 735.1 L758.5 735.2 L758.8 735.2 L759.0 735.2 L759.3 735.2 L759.5 735.1 L766.7 733.3 L767.0 733.2 L767.2 733.1 L767.5 733.0 L778.3 725.9 L778.5 725.7 L778.7 725.6 L778.8 725.4 L779.0 725.2 L779.1 724.9 L779.2 724.7 L782.4 716.4 L790.6 711.0 L794.6 716.3 L794.6 716.4 L801.8 725.4 L802.0 725.5 L802.2 725.7 L802.4 725.9 L802.6 726.0 L802.8 726.1 L815.2 731.3 L827.7 738.5 L827.9 738.6 L840.4 744.0 L840.6 744.1 L840.9 744.1 L841.1 744.2 L841.3 744.2 L841.6 744.2 L841.8 744.2 L842.0 744.1 L842.3 744.0 L856.7 738.6 L856.9 738.5 L857.1 738.4 L857.3 738.3 L857.5 738.1 L857.7 737.9 L857.9 737.7 L865.1 727.0 L865.2 726.8 L865.3 726.6 L865.4 726.4 L865.4 726.2 L868.9 711.9 L872.2 701.9 L878.8 697.1 L879.0 697.0 L879.1 696.8 L879.3 696.7 L885.4 689.0 L893.8 691.9 L900.6 698.7 L900.8 698.8 L901.0 699.0 L901.2 699.1 L901.5 699.2 L901.7 699.3 L901.9 699.4 L902.2 699.4 L902.4 699.4 L902.7 699.4 L902.9 699.3 L903.2 699.3 L914.0 695.7 L914.2 695.6 L914.4 695.5 L914.6 695.4 L914.8 695.2 L915.0 695.1 L915.1 694.9 L915.3 694.7 L922.0 684.6 L930.4 681.8 L936.5 687.9 L936.7 688.0 L936.9 688.2 L947.7 695.4 L947.9 695.5 L948.2 695.6 L948.4 695.7 L948.6 695.8 L948.9 695.8 L949.2 695.8 L949.4 695.8 L949.7 695.7 L949.9 695.7 L960.6 692.1 L960.8 692.0 L961.0 691.9 L961.3 691.7 L961.4 691.6 L961.6 691.4 L961.8 691.2 L961.9 691.0 L962.0 690.8 L962.1 690.6 L962.2 690.4 L962.3 690.1 L962.3 689.9 L962.3 689.6 L962.3 689.4 L962.2 689.1 L962.2 688.9 L962.1 688.7 L962.0 688.5 L961.8 688.2 L961.7 688.1 L961.5 687.9 L961.3 687.7 L961.1 687.6 L955.8 684.3 L961.1 677.7 L971.5 681.3 L971.8 681.3 L972.0 681.4 L972.3 681.4 L972.6 681.4 L990.4 679.4 L1005.6 681.3 L1011.9 685.9 L1008.2 700.5 L1008.1 700.7 L1008.1 701.0 L1008.1 701.2 L1008.1 701.4 L1008.2 701.7 L1008.2 701.9 L1008.3 702.1 L1008.4 702.3 L1008.6 702.5 L1008.7 702.7 L1008.9 702.9 L1009.0 703.1 L1009.2 703.2 L1009.4 703.3 L1009.7 703.4 L1009.9 703.5 L1010.1 703.6 L1010.4 703.6 L1010.6 703.6 L1028.5 703.6 L1044.3 707.5 L1044.3 707.5 L1060.5 711.5 L1060.8 711.6 L1061.1 711.6 L1145.5 711.6 L1161.4 715.6 L1161.6 715.7 L1161.9 715.7 L1162.1 715.7 L1162.3 715.7 L1162.6 715.6 L1162.8 715.6 L1174.5 711.6 L1190.0 711.6 L1206.0 713.7 L1206.2 713.7 L1206.5 713.7 L1206.7 713.7 L1206.9 713.6 L1207.2 713.5 L1223.4 707.4 L1223.6 707.3 L1223.8 707.2 L1224.1 707.1 L1224.2 706.9 L1224.4 706.7 L1224.6 706.5 L1232.7 694.4 L1232.8 694.2 L1232.9 693.9 L1233.0 693.7 L1239.0 671.5 L1239.1 671.2 L1239.1 671.0 L1239.1 670.7 L1239.1 670.5 L1239.0 670.3 L1239.0 670.0 L1238.9 669.8 L1238.8 669.6 L1238.7 669.4 L1238.5 669.2 L1238.3 669.0 L1238.2 668.9 L1238.0 668.7 L1237.8 668.6 L1237.5 668.5 L1237.3 668.4 L1237.1 668.3 L1227.0 666.3 L1226.7 666.3 L1226.5 666.3 L1210.4 666.3 L1210.1 666.3 L1193.9 668.3 L1193.6 668.4 L1177.5 672.4 L1177.5 672.4 L1162.1 676.3 L1150.6 672.4 L1150.4 672.4 L1150.1 672.3 L1149.8 672.3 L1149.6 672.3 L1149.3 672.3 L1149.1 672.4 L1148.8 672.5 L1148.6 672.6 L1148.4 672.7 L1148.2 672.9 L1148.0 673.1 L1147.8 673.2 L1141.3 681.5 L1131.3 675.0 L1123.4 667.0 L1123.2 666.9 L1123.0 666.7 L1122.8 666.6 L1122.6 666.5 L1122.3 666.4 L1122.1 666.4 L1121.9 666.3 L1121.6 666.3 L1121.4 666.3 L1121.1 666.3 L1120.9 666.4 L1120.7 666.5 L1120.4 666.6 L1120.2 666.7 L1120.0 666.8 L1110.3 674.6 L1097.4 678.3 L1081.8 674.5 L1081.6 674.4 L1081.3 674.4 L1081.1 674.4 L1080.8 674.4 L1080.6 674.5 L1073.3 676.3 L1062.3 672.6 L1050.9 663.1 L1043.1 649.4 L1041.1 645.5 L1041.0 645.3 L1040.9 645.1 L1040.7 644.9 L1040.6 644.8 L1040.4 644.6 L1032.3 638.5 L1032.1 638.4 L1031.9 638.3 L1031.7 638.2 L1031.5 638.1 L1031.3 638.0 L1021.2 636.0 L1020.9 636.0 L1020.7 636.0 L1020.4 636.0 L1020.2 636.1 L1020.0 636.1 L1019.7 636.2 L1019.5 636.3 L1019.3 636.4 L1019.1 636.6 L1018.9 636.8 L1017.1 638.7 L1014.8 635.3 L1010.9 625.5 L1010.8 625.2 L1010.7 625.0 L1010.5 624.8 L1010.4 624.6 L1010.2 624.5 L1010.0 624.3 L1009.8 624.2 L1009.5 624.1 L1009.3 624.0 L1009.1 623.9 L1008.8 623.9 L1008.6 623.9 L1008.3 623.9 L1008.1 624.0 L1007.8 624.0 L1001.8 626.0 L1001.6 626.1 L1001.4 626.2 L1001.2 626.4 L1001.0 626.5 L1000.8 626.7 L1000.6 626.9 L1000.5 627.1 L1000.4 627.3 L1000.3 627.5 L1000.2 627.7 L1000.1 628.0 L998.1 639.5 L993.1 646.3 L980.4 648.1 L965.1 646.2 L953.5 638.4 L953.3 638.3 L953.1 638.2 L952.8 638.1 L952.6 638.1 L952.4 638.0 L952.1 638.0 L951.9 638.0 L951.6 638.0 L951.4 638.1 L951.2 638.2 L950.9 638.3 L950.7 638.4 L950.5 638.5 L950.4 638.7 L950.2 638.9 L950.0 639.1 L949.9 639.3 L949.8 639.5 L949.7 639.7 L949.7 640.0 L949.6 640.2 L949.6 640.4 L949.6 642.4 L940.4 641.9 L934.3 640.1 L926.4 636.1 L926.2 636.0 L926.0 635.9 L925.8 635.8 L925.5 635.8 L925.3 635.8 L925.1 635.8 L924.9 635.8 L924.6 635.9 L920.6 637.0 L920.4 637.1 L920.2 637.2 L914.1 640.2 L913.9 640.3 L913.6 640.5 L913.4 640.6 L913.2 640.8 L910.2 644.7 L901.6 642.9 L901.3 642.9 L889.2 641.9 L889.0 641.9 L888.8 641.9 L888.5 641.9 L888.3 642.0 L888.1 642.1 L887.9 642.2 L879.9 646.1 L870.7 649.8 L867.3 648.7 L867.3 642.4 L867.3 642.2 L867.3 641.9 L867.2 641.7 L867.1 641.5 L867.0 641.3 L862.9 633.2 L862.8 633.0 L862.7 632.7 L862.5 632.6 L862.3 632.4 L862.1 632.2 L861.9 632.1 L861.7 632.0 L861.4 631.9 L861.2 631.9 L861.0 631.8 L860.7 631.8 L850.6 631.8 L850.4 631.8 L850.2 631.8 L849.9 631.9 L849.7 632.0 L841.7 635.0 L841.7 635.0 L833.6 638.1 L833.4 638.2 L833.2 638.3 L833.0 638.4 L832.8 638.6 L832.6 638.7 L832.5 638.9 L832.3 639.1 L832.2 639.4 L832.1 639.6 L832.1 639.8 L832.0 640.0 L832.0 640.3 L832.0 640.5 L832.3 646.9 L819.7 655.9 L813.1 657.8 L812.9 657.9 L797.7 663.9 L797.5 664.0 L797.2 664.1 L797.0 664.2 L796.9 664.4 L796.7 664.6 L791.1 671.2 L781.6 675.0 L781.3 675.1 L781.1 675.2 L780.9 675.4 L773.2 682.1 L760.0 685.9 Z" fill="#fff" fill-opacity="1.0"/>
<ellipse cx="805.6" cy="690.6" rx="10.8" ry="6.3" transform="rotate(0 805.6 690.6)" fill="#000" fill-opacity="0.35"/>
<ellipse cx="845.9" cy="676.2" rx="13.5" ry="5.0" transform="rotate(0 845.9 676.2)" fill="#000" fill-opacity="0.3"/>
<ellipse cx="871.9" cy="644.8" rx="9.0" ry="8.1" transform="rotate(0 871.9 644.8)" fill="#000" fill-opacity="0.3"/>
<ellipse cx="895.2" cy="666.4" rx="13.5" ry="14.3" transform="rotate(0 895.2 666.4)" fill="#000" fill-opacity="0.35"/>
<ellipse cx="918.6" cy="691.5" rx="10.8" ry="9.0" transform="rotate(0 918.6 691.5)" fill="#000" fill-opacity="0.3"/>
<ellipse cx="782.2" cy="707.6" rx="6.3" ry="5.4" transform="rotate(0 782.2 707.6)" fill="#000" fill-opacity="0.7"/>
<ellipse cx="909.6" cy="628.7" rx="2.5" ry="2.5" transform="rotate(0 909.6 628.7)" fill="#fff" fill-opacity="0.5"/>
<ellipse cx="986.4" cy="666.8" rx="12.1" ry="4.0" transform="rotate(0 986.4 666.8)" fill="#000" fill-opacity="0.2"/>
<ellipse cx="1242.7" cy="638.5" rx="1.6" ry="2.8" transform="rotate(0 1242.7 638.5)" fill="#fff" fill-opacity="0.5"/>
<ellipse cx="1230.6" cy="630.4" rx="2.4" ry="1.6" transform="rotate(0 1230.6 630.4)" fill="#fff" fill-opacity="0.3"/>
<ellipse cx="1022.7" cy="605.2" rx="1.6" ry="2.0" transform="rotate(0 1022.7 605.2)" fill="#fff" fill-opacity="0.6"/>
<path d="M733.8 741.7 L748.2 748.9 L758.9 757.8" fill="none" stroke="#fff" stroke-opacity="0.8" stroke-width="5.4" stroke-linecap="round" stroke-linejoin="round"/></g>
<path d="M466.9 556.1 L474.1 557.9 L478.6 566.9 L480.4 575.9 L484.8 581.3 L492.0 586.6 L493.8 597.4 L490.2 599.2 L486.6 590.2 L480.4 584.8 L475.9 575.9 L473.2 566.9 L468.7 561.5 Z" fill="#4D4D4D"/><path d="M455.2 556.1 L459.7 556.5 L460.1 560.6 L455.8 560.1 Z" fill="#4D4D4D"/><path d="M492.0 615.3 L501.0 613.5 L508.2 618.9 L517.1 617.1 L520.7 608.2 L526.1 611.7 L529.7 620.7 L525.2 629.7 L521.6 640.4 L519.8 651.2 L522.9 662.0 L511.7 663.8 L501.0 663.8 L492.0 656.6 L486.6 647.6 L490.2 645.8 L499.2 654.8 L511.7 654.8 L513.5 644.0 L508.2 633.3 L501.0 624.3 Z" fill="#4D4D4D"/><path d="M526.1 624.3 L536.9 622.5 L540.4 633.3 L536.9 640.4 L529.7 644.0 L527.0 654.8 L536.9 656.6 L547.6 651.2 L556.6 642.2 L565.6 636.9 L576.3 636.9 L587.1 642.2 L588.9 651.2 L583.5 662.0 L572.7 663.8 L565.6 656.6 L554.8 663.8 L553.0 674.5 L540.4 674.5 L529.7 669.1 L522.5 665.6 L524.3 654.8 L520.7 647.6 L526.1 636.9 Z" fill="#4D4D4D"/><path d="M576.7 666.5 L579.6 666.5 L579.0 673.6 L577.2 673.6 Z" fill="#4D4D4D"/>
</g>
<g fill="none" stroke="#000" stroke-width="3.9" stroke-linejoin="round" stroke-linecap="round">
<path d="M351.5 235.2 L700.0 234.9 L932.5 235.2 L932.9 226.1 L941.6 226.1 L943.9 240.0 L953.5 243.2 L963.0 247.6 L972.5 244.8 L982.0 245.7 L989.7 251.4 L994.4 255.3 L1001.1 252.4 L1012.5 259.1 L1024.0 255.3 L1033.5 259.1 L1043.0 261.0 L1054.5 261.0 L1043.8 267.2 L1032.4 272.9 L1021.0 280.5 L1009.5 288.1 L1000.0 295.4 L1000.0 296.3 L1011.4 292.9 L1021.0 290.2 L1024.4 292.5 L1022.9 297.7 L1028.6 296.3 L1036.2 297.7 L1045.7 291.9 L1057.2 290.0 L1066.7 284.3 L1076.2 276.7 L1083.8 275.4 L1091.5 275.7 L1087.7 279.9 L1081.9 284.3 L1076.2 289.1 L1074.3 292.9 L1080.0 291.0 L1089.6 291.9 L1095.3 295.7 L1099.1 299.6 L1106.7 301.5 L1114.3 299.6 L1123.9 296.7 L1133.4 295.7 L1142.9 294.8 L1149.6 294.8 L1149.6 299.6 L1152.5 302.4 L1162.0 301.5 L1163.9 306.2 L1165.8 311.0 L1171.5 313.8 L1162.0 314.8 L1154.4 317.7 L1150.5 315.8 L1144.8 313.5 L1137.2 312.3 L1129.6 314.2 L1122.0 316.7 L1114.3 318.0 L1106.7 319.2 L1102.9 320.5 L1099.1 327.2 L1095.3 333.9 L1091.5 340.1 L1088.6 344.3 L1084.8 349.1 L1082.9 353.9 L1085.8 352.9 L1091.5 347.2 L1097.2 340.5 L1102.0 334.8 L1105.8 332.9 L1103.9 337.7 L1099.1 344.3 L1094.3 352.0 L1093.4 363.4 L1089.6 374.8 L1087.7 386.3 L1089.6 400.0 L1087.6 380.0 L1088.6 399.1 L1089.5 410.5 L1093.3 421.0 L1098.1 427.6 L1104.8 425.7 L1111.4 421.9 L1117.2 412.4 L1121.0 402.9 L1120.0 391.4 L1117.2 380.0 L1121.0 400.0 L1118.2 388.2 L1116.2 378.6 L1115.3 371.0 L1117.2 363.4 L1120.4 355.8 L1123.9 346.2 L1131.5 341.5 L1135.3 346.2 L1138.2 342.4 L1136.3 336.7 L1141.0 332.9 L1146.7 327.2 L1150.5 318.6 L1158.2 321.5 L1167.7 326.2 L1177.2 331.0 L1182.9 336.7 L1183.9 342.4 L1182.9 352.0 L1179.1 359.6 L1175.3 365.3 L1170.6 368.2 L1169.6 372.9 L1173.4 377.7 L1179.1 374.8 L1182.9 369.1 L1190.6 365.3 L1196.3 367.2 L1199.1 374.8 L1200.1 384.4 L1202.0 393.9 L1201.0 400.0 L1201.0 380.0 L1201.0 391.4 L1198.2 401.0 L1192.4 404.8 L1188.6 412.4 L1184.8 420.0 L1181.0 425.7 L1183.9 427.6 L1190.5 433.4 L1200.1 435.3 L1209.6 432.4 L1217.2 430.5 L1226.7 425.7 L1242.0 421.0 L1257.2 414.3 L1257.2 415.5 L1267.3 407.0 L1274.0 402.5 L1275.1 395.8 L1272.9 389.0 L1275.1 384.6 L1289.7 383.4 L1303.2 385.7 L1316.6 384.6 L1325.6 381.2 L1332.3 375.6 L1330.1 368.9 L1333.9 360.6 L1343.5 350.9 L1352.5 344.2 L1360.3 340.2 L1433.2 339.7 L1434.4 334.1 L1444.4 331.9 L1448.9 327.4 L1455.7 317.3 L1460.1 306.1 L1463.5 294.9 L1471.4 284.8 L1480.3 275.8 L1483.7 276.9 L1484.8 280.3 L1493.8 279.2 L1500.5 278.0 L1507.2 281.4 L1510.6 285.9 L1511.3 317.3 L1512.9 321.8 L1517.3 324.0 L1517.3 333.0 L1522.9 336.3 L1526.3 341.9 L1526.3 346.4 L1520.7 349.8 L1514.0 352.0 L1507.2 354.3 L1500.5 356.5 L1491.5 357.6 L1488.2 354.3 L1485.9 362.1 L1480.3 366.6 L1473.6 368.9 L1466.9 373.3 L1460.1 377.8 L1455.7 383.4 L1451.2 389.0 L1447.8 394.7 L1446.7 398.0 L1443.3 404.7 L1441.1 410.3 L1443.3 416.0 L1448.9 420.4 L1453.4 424.9 L1457.9 427.2 L1462.4 426.0 L1461.3 419.3 L1459.0 418.2 L1464.6 422.7 L1464.6 428.3 L1457.9 431.7 L1448.9 432.8 L1442.2 431.7 L1437.7 429.4 L1433.2 432.8 L1426.5 435.0 L1419.8 436.1 L1410.8 437.3 L1401.8 438.4 L1392.9 440.6 L1386.1 442.9 L1383.9 445.1 L1382.0 449.0 L1378.1 454.5 L1373.4 458.5 L1379.7 461.6 L1380.5 467.1 L1378.9 474.9 L1375.0 482.8 L1370.3 489.1 L1365.6 495.3 L1361.6 499.3 L1362.7 499.7 L1359.7 501.3 L1357.8 509.3 L1357.2 515.5 L1355.4 521.7 L1351.7 529.1 L1348.0 535.2 L1344.3 541.4 L1340.6 547.5 L1338.7 551.9 L1334.4 540.0 L1338.2 551.4 L1340.1 562.9 L1343.9 572.4 L1346.8 581.9 L1348.7 589.5 L1349.7 597.2 L1334.4 602.9 L1326.8 610.5 L1315.4 614.3 L1307.7 618.1 L1300.1 623.8 L1296.3 631.5 L1284.9 633.4 L1277.2 639.1 L1271.5 646.7 L1268.7 654.3 L1262.0 658.2 L1254.4 663.9 L1246.8 669.6 L1239.1 675.3 L1235.3 681.0 L1229.6 690.5 L1225.8 700.1 L1222.0 710.0 L1229.2 690.0 L1225.8 703.6 L1222.4 714.9 L1224.6 726.2 L1226.9 739.8 L1231.4 753.4 L1235.9 767.0 L1240.5 780.6 L1245.0 794.2 L1250.7 810.0 L1252.9 823.6 L1251.8 837.2 L1249.5 850.8 L1245.0 858.7 L1238.2 863.3 L1229.2 864.4 L1226.9 857.6 L1222.4 848.6 L1215.6 844.0 L1213.3 835.0 L1209.9 828.2 L1208.8 821.4 L1204.2 819.1 L1200.8 812.3 L1197.4 803.3 L1192.9 793.1 L1194.0 787.4 L1196.3 778.3 L1196.3 767.0 L1190.6 758.0 L1183.9 751.2 L1177.1 742.1 L1170.3 734.2 L1163.5 733.0 L1156.7 737.6 L1147.6 743.2 L1138.6 744.4 L1134.0 734.2 L1127.2 729.6 L1120.4 724.0 L1109.1 724.0 L1097.8 726.2 L1086.0 728.5 L1084.2 715.4 L1082.4 729.9 L1077.4 724.0 L1066.1 726.2 L1057.0 729.6 L1057.0 733.0 L1052.5 739.8 L1050.2 746.6 L1057.0 753.4 L1063.8 758.0 L1059.3 762.9 L1054.7 758.0 L1048.0 753.4 L1043.4 750.0 L1038.9 755.7 L1032.1 756.8 L1023.0 758.0 L1016.2 752.3 L1009.4 744.4 L1000.4 741.0 L993.6 745.5 L980.0 743.2 L973.5 743.8 L962.1 744.8 L952.5 746.7 L944.9 751.5 L933.5 761.0 L922.0 768.6 L910.6 776.2 L899.2 785.8 L891.5 795.3 L887.7 806.7 L885.8 818.2 L888.7 829.6 L891.5 842.0 L887.7 843.9 L880.1 842.0 L870.6 840.1 L861.1 835.3 L851.5 831.5 L848.7 825.8 L843.9 816.2 L842.0 806.7 L838.2 799.1 L830.6 789.6 L824.8 780.0 L820.1 770.5 L815.3 759.1 L807.7 749.5 L802.0 742.9 L792.5 741.9 L782.9 741.0 L777.2 742.9 L773.4 747.6 L771.5 757.2 L764.8 763.8 L758.2 761.0 L750.5 755.3 L741.0 749.5 L735.3 741.9 L731.5 732.4 L727.7 721.0 L720.0 713.3 L711.6 710.0 L705.9 703.9 L701.1 698.2 L696.4 692.5 L690.6 688.1 L657.3 689.6 L657.3 701.0 L595.4 701.0 L520.1 671.5 L521.0 664.2 L471.5 669.6 L469.6 665.8 L467.7 658.2 L463.9 650.5 L458.2 643.9 L450.5 638.1 L443.9 635.3 L439.1 631.5 L429.6 627.7 L421.9 621.9 L412.4 619.1 L402.9 618.1 L398.1 614.3 L397.2 602.9 L392.4 595.3 L386.7 587.6 L380.0 580.0 L373.3 572.4 L368.6 564.8 L371.4 561.0 L369.5 553.3 L361.0 547.6 L359.1 540.0 L355.3 526.7 L346.7 523.9 L345.7 515.3 L340.0 507.7 L333.3 499.1 L330.5 490.5 L329.5 481.0 L325.7 473.4 L320.0 466.7 L317.2 460.0 L319.1 452.4 L322.9 444.8 L324.8 435.3 L322.9 425.7 L320.0 419.1 L319.1 414.3 L318.1 404.8 L314.3 398.1 L315.2 389.5 L320.0 380.0 L319.1 385.8 L321.3 372.5 L322.9 357.2 L324.4 342.0 L325.7 326.7 L326.7 313.4 L325.7 308.6 L326.7 303.8 L325.7 296.2 L328.6 289.6 L323.8 285.7 L321.0 277.2 L318.1 269.5 L311.8 261.0 L310.5 251.4 L319.1 253.3 L334.3 256.6 L349.2 257.2 L349.9 250.5 L351.8 241.0 L351.5 235.2 Z"/>
<path d="M325.7 308.0 L338.1 308.6 L346.7 311.5 L350.5 317.2 L352.4 322.9 L361.0 325.8 L372.4 322.9 L383.8 324.4 L399.1 321.0 L414.3 318.1 L429.6 314.9 L444.8 313.9 L462.0 313.8 L473.4 313.4"/><path d="M472.5 235.2 L472.5 307.7 L474.4 313.4"/><path d="M474.4 313.4 L482.9 319.1 L484.5 323.9 L482.0 330.5 L479.1 338.2 L476.3 345.8 L470.6 351.5 L467.7 356.3 L468.7 361.0 L474.4 362.0 L473.8 370.5 L473.0 390.0"/><path d="M473.0 380.0 L473.0 419.6"/><path d="M493.4 235.2 L493.4 262.9 L498.2 269.5 L499.1 275.3 L505.8 279.1 L511.5 284.8 L517.2 291.5 L522.0 296.2 L529.6 297.2 L530.6 303.8 L526.8 309.6 L527.7 317.2 L524.9 322.9 L526.8 327.7 L533.4 326.7 L537.3 322.9 L540.1 327.7 L543.9 336.2 L547.7 342.0 L551.5 347.7 L555.4 349.6 L559.2 356.3 L566.8 354.3 L576.3 352.4 L585.9 351.5 L590.6 347.7 L594.4 349.6 L598.8 353.4"/><path d="M598.8 340.9 L598.8 390.0"/><path d="M598.8 380.0 L598.8 446.2"/><path d="M598.8 340.9 L700.0 340.9"/><path d="M700.0 340.9 L746.0 340.9"/><path d="M352.4 239.1 L357.2 241.0 L359.1 246.7 L353.4 248.6 L347.6 244.8 L344.8 248.6 L347.6 252.4 L355.3 254.3 L361.0 254.3 L363.8 261.0 L357.2 263.8 L353.4 269.5 L361.9 269.5 L361.0 277.2 L355.3 275.3 L349.5 277.2 L345.7 281.0 L347.6 284.8 L351.5 285.7 L357.2 282.9 L361.0 277.2"/><path d="M348.6 242.9 L350.5 246.7"/><path d="M350.5 279.1 L353.4 281.9"/><path d="M1322.0 570.5 L1323.0 578.1 L1330.6 577.2 L1336.3 573.3 L1334.4 581.0 L1340.1 583.8 L1336.3 589.5 L1326.8 590.5 L1317.3 592.4 L1324.9 595.3 L1332.5 593.4 L1326.8 601.0 L1315.4 601.0 L1321.1 606.7 L1328.7 605.7 L1325.8 611.5"/><path d="M1316.3 543.8 L1323.0 547.6 L1326.8 553.3 L1332.5 551.4 L1330.6 544.8 L1336.3 541.9"/><path d="M936.3 742.9 L943.0 741.0 L940.1 747.6 L937.3 750.5"/><path d="M897.3 776.2 L903.9 770.5 L910.6 771.5 L906.8 776.2"/><path d="M878.2 803.9 L883.9 804.8 L882.0 795.3 L887.7 791.5"/><path d="M1057.0 733.0 L1048.0 735.3 L1036.6 734.2 L1033.2 730.8 L1038.9 726.2 L1045.7 730.8 L1048.0 735.3"/><path d="M1194.0 790.8 L1200.8 791.9 L1198.6 797.6"/><path d="M1205.4 818.0 L1208.8 816.8"/><path d="M1229.2 861.0 L1231.4 863.3"/><path d="M746.0 235.2 L746.0 390.0"/><path d="M746.0 380.0 L746.0 446.2"/><path d="M745.9 316.0 L904.9 316.0"/><path d="M889.6 235.2 L892.5 244.8 L891.5 256.2 L896.3 267.6 L899.1 279.1 L900.1 290.5 L903.0 301.9 L904.9 314.3 L903.9 318.7 L897.2 323.9 L900.1 329.6 L906.8 332.4 L906.8 380.5"/><path d="M997.7 295.5 L994.4 296.6 L993.5 311.5 L983.9 317.2 L981.1 323.9 L985.9 330.5 L983.0 342.0 L985.9 349.6 L997.3 355.3 L1004.9 361.0 L1014.4 370.5 L1017.3 380.5"/><path d="M1023.8 297.7 L1038.1 303.4 L1053.4 308.1 L1068.6 312.9 L1080.0 317.7 L1085.8 325.3 L1088.6 333.9 L1091.5 340.1"/><path d="M1391.7 340.2 L1391.7 362.1 L1390.6 375.6 L1392.9 384.6 L1393.3 398.0 L1391.7 404.7 L1390.2 420.4 L1389.5 440.6 L1386.1 442.9"/><path d="M1433.2 339.7 L1431.0 348.7 L1424.3 357.6 L1420.9 359.9 L1418.7 371.1 L1414.2 382.3 L1411.9 393.5 L1409.7 399.8"/><path d="M1440.0 333.0 L1441.1 362.1 L1443.3 384.6 L1445.6 393.5 L1446.7 398.0"/><path d="M1392.4 404.7 L1394.0 402.9 L1410.8 400.7 L1435.5 400.7 L1442.2 396.9 L1446.7 395.8"/><path d="M1390.6 420.4 L1424.3 420.0 L1434.4 419.3 L1435.5 429.4"/><path d="M1427.6 420.0 L1427.6 436.1"/><path d="M320.0 419.9 L598.8 419.9"/><path d="M410.1 419.6 L410.1 499.1 L525.6 603.7"/><path d="M535.7 419.6 L535.7 550.0"/><path d="M598.8 446.2 L700.0 446.2"/><path d="M700.0 446.2 L788.3 446.2"/><path d="M640.8 446.2 L640.8 550.0"/><path d="M788.3 446.2 L788.3 550.0"/><path d="M788.3 540.0 L788.3 551.6"/><path d="M746.0 393.7 L862.9 393.7 L872.5 399.1 L879.1 397.5 L888.7 398.1 L898.2 401.9 L903.0 404.8"/><path d="M906.8 380.4 L903.5 381.9 L905.8 387.6 L903.9 397.2 L903.0 404.8"/><path d="M906.8 380.4 L1017.3 380.4"/><path d="M903.0 404.8 L907.7 414.3 L911.5 423.8 L914.4 433.4 L918.2 441.0 L919.2 450.5 L922.0 456.2 L924.9 463.8 L929.6 471.5 L936.3 475.3 L939.2 479.1 L934.4 483.9 L938.2 489.6 L942.0 494.3 L944.9 495.3 L944.9 550.0"/><path d="M922.0 456.2 L1009.7 456.2 L1011.6 458.5"/><path d="M788.3 472.6 L929.6 472.6"/><path d="M1017.3 380.4 L1018.2 389.5 L1022.1 399.1 L1029.7 404.8 L1035.4 412.4 L1039.2 420.0 L1035.4 428.6 L1027.8 432.4 L1021.1 435.3 L1019.2 442.9 L1021.1 448.6 L1016.3 454.3 L1011.6 458.1 L1010.6 469.6 L1012.5 477.2 L1020.2 485.8 L1025.9 492.4 L1027.8 500.1 L1033.5 502.0 L1039.2 503.9 L1037.3 511.5 L1033.5 517.2 L1037.3 522.9 L1044.9 528.6 L1052.5 534.4 L1054.5 542.0 L1056.4 550.0"/><path d="M1029.7 406.7 L1088.8 406.7"/><path d="M1080.0 406.7 L1088.0 406.7"/><path d="M1094.5 426.7 L1094.5 492.4 L1090.7 496.2 L1094.5 503.9 L1090.7 513.4 L1084.9 521.0 L1081.1 530.5"/><path d="M1094.3 426.7 L1094.3 492.4 L1090.5 496.2 L1094.3 503.9 L1090.5 513.4 L1084.8 521.0 L1081.0 530.5 L1080.0 538.2"/><path d="M1100.0 526.7 L1092.6 527.7 L1086.9 530.5 L1081.1 532.5 L1079.2 538.2 L1073.5 543.9 L1071.6 550.0"/><path d="M1104.8 425.7 L1151.5 425.4 L1179.1 426.7 L1183.9 427.3"/><path d="M1151.5 425.7 L1151.5 495.3"/><path d="M1242.0 421.0 L1242.0 480.0"/><path d="M1242.0 480.0 L1342.0 480.0"/><path d="M1257.2 414.3 L1257.2 419.1 L1351.6 419.1 L1356.3 425.7 L1357.3 431.5 L1362.0 436.2 L1360.1 441.0 L1356.3 446.7 L1354.4 454.3 L1357.3 458.1 L1362.0 463.8 L1364.9 468.6 L1358.2 473.4 L1352.5 477.2 L1346.8 479.1 L1343.9 483.9"/><path d="M1362.0 436.8 L1381.1 446.7"/><path d="M1239.1 456.2 L1238.2 463.8 L1236.3 473.4 L1230.5 482.9 L1222.9 488.6 L1217.2 494.3 L1211.5 499.1 L1205.8 503.9 L1203.9 511.5 L1199.1 515.3 L1192.4 507.7 L1184.8 507.7 L1175.3 505.8 L1165.8 502.0 L1160.0 496.2 L1152.4 495.3 L1150.5 503.9 L1141.0 507.7 L1135.3 513.4 L1129.5 521.0 L1123.8 524.8 L1118.1 521.0 L1112.4 526.7 L1102.9 530.5 L1093.3 526.7 L1085.7 530.5 L1080.0 538.2"/><path d="M1199.1 515.3 L1198.2 522.9 L1202.0 530.5 L1207.7 536.3 L1211.5 540.1"/><path d="M1211.5 540.1 L1203.9 543.9 L1194.3 550.0"/><path d="M1174.3 562.5 L1183.9 559.1 L1191.5 551.4 L1197.2 546.7 L1204.8 542.9 L1212.5 540.0"/><path d="M1211.5 540.1 L1217.2 543.9 L1224.8 542.0 L1232.5 540.1 L1242.0 537.2 L1247.7 530.5 L1251.5 522.9 L1255.3 513.4 L1259.1 509.6 L1264.8 513.4 L1270.6 505.8 L1276.3 502.0 L1282.0 498.2 L1284.9 490.5 L1289.6 488.6 L1297.2 495.3"/><path d="M1263.8 480.0 L1263.8 494.1 L1269.8 487.5 L1274.5 484.4 L1279.2 481.7 L1283.9 482.8 L1287.9 482.0 L1292.6 480.4 L1296.5 485.1 L1302.0 489.8 L1305.9 494.6 L1312.2 498.5 L1317.7 501.6 L1313.8 505.5 L1309.8 510.3 L1309.1 514.2 L1313.8 514.2 L1318.5 517.3 L1324.8 522.0 L1330.3 525.9"/><path d="M1302.0 489.8 L1300.4 494.6 L1293.4 489.8 L1287.9 484.4 L1285.5 489.1 L1282.4 496.9 L1276.1 501.6 L1273.0 505.5 L1268.3 512.6 L1262.0 511.8 L1258.8 511.0 L1254.9 517.3 L1251.0 525.2 L1246.3 533.0 L1247.1 537.7 L1242.4 540.9 L1240.0 540.9"/><path d="M640.8 551.6 L640.8 701.0"/><path d="M536.3 551.6 L740.0 551.6"/><path d="M700.0 551.6 L944.9 551.6"/><path d="M536.3 540.0 L536.3 568.6 L533.4 575.3 L522.9 575.3 L521.0 578.1 L522.0 587.6 L523.9 597.2 L525.8 604.8 L530.6 614.3 L533.4 622.9 L527.7 629.6 L524.8 635.3 L521.0 643.9 L520.1 652.4 L523.9 656.2 L523.9 662.0 L521.0 664.2"/><path d="M691.6 688.1 L692.2 683.3 L740.0 683.3"/><path d="M700.0 683.3 L768.2 683.3"/><path d="M768.2 551.6 L768.2 683.3"/><path d="M768.2 564.8 L831.5 564.8 L831.5 615.3 L837.2 619.1 L844.8 619.1 L847.7 623.8 L856.3 626.7 L865.8 628.6 L873.4 633.4 L881.0 632.4 L890.6 637.2 L898.2 633.4 L907.7 639.1 L919.2 633.4 L932.5 631.5 L940.1 635.3 L947.7 639.1 L957.1 641.0 L957.1 681.0 L961.5 690.5 L964.9 700.1 L966.8 710.0"/><path d="M944.9 540.0 L944.9 551.6 L945.8 564.8 L947.7 593.4 L947.7 639.1"/><path d="M945.8 564.8 L1041.1 564.8 L1039.2 570.5 L1033.5 577.2 L1047.8 577.7"/><path d="M957.1 656.9 L1018.6 656.9"/><path d="M1052.5 540.0 L1054.5 547.6 L1060.2 550.5 L1059.2 557.2 L1052.5 562.9 L1050.6 570.5 L1048.7 578.1 L1044.9 585.7 L1041.1 593.4 L1039.2 599.1 L1033.5 606.7 L1027.8 616.2 L1022.1 627.7 L1017.3 639.1 L1016.3 646.7 L1020.2 654.3 L1020.2 663.9 L1023.0 675.3 L1018.2 684.8 L1012.5 692.5 L1009.7 702.0 L1007.8 710.0"/><path d="M1060.2 550.5 L1065.9 545.7 L1073.5 548.6 L1076.4 542.9 L1083.0 540.0"/><path d="M1059.2 563.8 L1084.9 563.8 L1085.9 560.0 L1100.0 559.4"/><path d="M1060.0 563.8 L1084.8 563.8 L1084.8 560.0 L1117.2 560.6 L1174.3 562.9 L1218.2 562.5 L1339.2 563.2"/><path d="M1039.2 603.8 L1100.0 603.8"/><path d="M1060.0 603.8 L1162.0 603.5 L1183.9 604.4"/><path d="M1080.2 603.8 L1079.2 635.3 L1076.4 673.4 L1074.5 710.0"/><path d="M1081.3 603.8 L1079.1 635.3 L1076.2 673.4 L1074.3 710.0"/><path d="M1076.9 690.0 L1076.9 724.0"/><path d="M1218.2 562.9 L1216.3 569.5 L1208.6 574.3 L1199.1 577.2 L1191.5 581.9 L1182.0 587.6 L1172.4 590.5 L1166.7 595.3 L1162.0 598.1 L1162.0 603.5"/><path d="M1183.9 604.8 L1191.5 601.0 L1202.9 598.7 L1218.2 599.1 L1231.5 600.0 L1236.3 607.7 L1260.1 608.6 L1284.9 633.4"/><path d="M1134.3 603.8 L1138.1 625.8 L1141.9 646.7 L1146.7 669.6 L1147.7 677.2 L1144.8 684.8 L1143.8 696.3 L1145.8 710.0"/><path d="M1146.5 690.0 L1146.5 709.9 L1149.9 716.0 L1208.8 720.6 L1208.8 726.2 L1212.2 715.4 L1222.4 716.0"/><path d="M1183.9 604.8 L1182.0 612.4 L1191.5 618.1 L1197.2 627.7 L1206.7 641.0 L1214.4 650.5 L1222.0 662.0 L1225.8 671.5 L1229.6 681.0 L1234.4 682.5"/><path d="M966.8 700.0 L966.8 711.4 L964.0 721.0 L964.9 730.5 L962.1 738.1 L960.2 744.2"/><path d="M1014.0 690.0 L1009.4 699.1 L1007.2 710.4 L1048.0 710.8 L1048.0 719.4 L1045.7 726.2 L1054.7 733.0"/><path d="M1096.6 725.1 L1093.3 717.2 L1091.0 709.9 L1146.5 709.9"/><path d="M1362.7 499.5 L1360.3 495.8 L1355.4 493.3 L1351.7 489.6 L1349.2 484.7 L1350.4 479.7 L1354.1 476.0 L1359.1 471.1 L1365.2 467.4"/><path d="M1345.5 481.0 L1345.5 487.1 L1348.0 493.3 L1350.4 498.2 L1352.9 503.2 L1356.6 505.6 L1357.8 509.3"/><path d="M1351.7 476.0 L1346.7 477.3 L1343.0 479.7 L1342.4 513.6 L1356.0 514.3"/><path d="M1340.6 481.0 L1333.2 486.5 L1327.0 490.8 L1323.9 493.3 L1324.5 499.5 L1325.1 505.6 L1323.9 513.0 L1325.8 518.0 L1329.5 521.7 L1331.9 526.6 L1332.5 531.5 L1331.3 536.4 L1331.9 541.4 L1330.7 546.3 L1333.2 551.2 L1336.9 552.5 L1338.7 551.9"/><path d="M1340.6 483.4 L1335.6 488.4 L1331.9 493.3 L1329.5 498.2 L1330.7 504.4 L1333.2 509.3 L1332.5 514.3 L1336.9 516.7 L1340.6 519.2 L1339.3 525.4 L1343.0 529.1 L1339.3 536.4 L1336.2 543.8 L1336.9 548.8"/><path d="M1327.0 495.8 L1329.5 501.9"/><path d="M1333.8 495.8 L1335.0 509.3"/><path d="M1308.5 514.3 L1311.0 516.7 L1314.7 514.3 L1319.6 518.0 L1324.5 521.7 L1329.5 524.1"/><path d="M1316.5 524.7 L1327.0 534.0"/><path d="M1319.6 537.7 L1329.5 545.1"/><path d="M1315.9 545.1 L1327.0 553.7"/><path d="M1386.2 453.8 L1398.5 449.3 L1409.7 444.8 L1416.4 441.5"/><path d="M1391.8 444.8 L1400.7 443.2 L1413.1 438.1"/>
<path d="M357.2 522.0 L362.9 520.1 L365.7 523.9 L363.8 530.5 L366.7 536.3 L369.6 539.1 L365.7 541.0 L361.0 536.3 L359.1 529.6 Z" fill="#000"/>
<path d="M1382.8 444.8 L1392.9 443.2 L1403.0 440.4 L1415.3 438.7 L1420.9 443.2 L1425.4 444.8 L1420.9 447.7 L1409.7 452.9 L1396.2 457.7 L1387.3 459.2 L1381.1 458.9 Z"/>
<path d="M353.8 237.5 L357.8 242.9 L356.5 250.9 L359.2 259.0 L361.9 263.0 L359.2 269.8 L360.5 277.8 L356.5 281.9" stroke-width="5.5"/><path d="M345.7 246.9 L351.1 250.9 L353.8 256.3 L351.1 264.4 L347.1 272.5 L346.4 280.5 L349.8 285.9 L355.1 281.9" stroke-width="5.5"/>
<circle cx="1448.9" cy="435.9" r="2.2" fill="#000" stroke="none"/><circle cx="1462.4" cy="438.1" r="2.2" fill="#000" stroke="none"/><circle cx="1459.6" cy="417.9" r="2.2" fill="#000" stroke="none"/><circle cx="1197.9" cy="793" r="3.6" fill="#000" stroke="none"/><circle cx="1206.5" cy="819" r="2.4" fill="#000" stroke="none"/><circle cx="1230.3" cy="862" r="2.4" fill="#000" stroke="none"/>
</g>
<text class="t" x="921" y="56.5">Asian longhorned beetle: Adult relative pop. size w/ climate</text>
<text class="t" x="921" y="96.5">stress exclusion 12/15/2025</text>
<text class="s" x="921" y="148.1">Maps and modeling 12/15/2025 by Oregon State University IPPC USPEST.ORG and</text>
<text class="s" x="921" y="181.2">USDA-APHIS-PPQ; climate data from OSU PRISM Climate Group</text>
<text class="lt" x="1571" y="415.5">Relative pop. size</text>
<rect x="1571" y="430.00" width="25" height="25.75" fill="#4D4D4D"/>
<text x="1607.5" y="450.03" class="ll">excl.-severe</text>
<rect x="1571" y="455.45" width="25" height="25.75" fill="#1874CD"/>
<text x="1607.5" y="475.48" class="ll">0-10</text>
<rect x="1571" y="480.91" width="25" height="25.75" fill="#4A90A0"/>
<text x="1607.5" y="500.94" class="ll">10-20</text>
<rect x="1571" y="506.36" width="25" height="25.75" fill="#7CB078"/>
<text x="1607.5" y="526.39" class="ll">20-30</text>
<rect x="1571" y="531.82" width="25" height="25.75" fill="#B0D045"/>
<text x="1607.5" y="551.85" class="ll">30-40</text>
<rect x="1571" y="557.27" width="25" height="25.75" fill="#E4EE18"/>
<text x="1607.5" y="577.30" class="ll">40-50</text>
<rect x="1571" y="582.73" width="25" height="25.75" fill="#F8E000"/>
<text x="1607.5" y="602.75" class="ll">50-60</text>
<rect x="1571" y="608.18" width="25" height="25.75" fill="#F0A800"/>
<text x="1607.5" y="628.21" class="ll">60-70</text>
<rect x="1571" y="633.64" width="25" height="25.75" fill="#E57000"/>
<text x="1607.5" y="653.66" class="ll">70-80</text>
<rect x="1571" y="659.09" width="25" height="25.75" fill="#DC3800"/>
<text x="1607.5" y="679.12" class="ll">80-90</text>
<rect x="1571" y="684.55" width="25" height="25.75" fill="#CC0000"/>
<text x="1607.5" y="704.57" class="ll">90-100</text>
</svg>
</body></html>
